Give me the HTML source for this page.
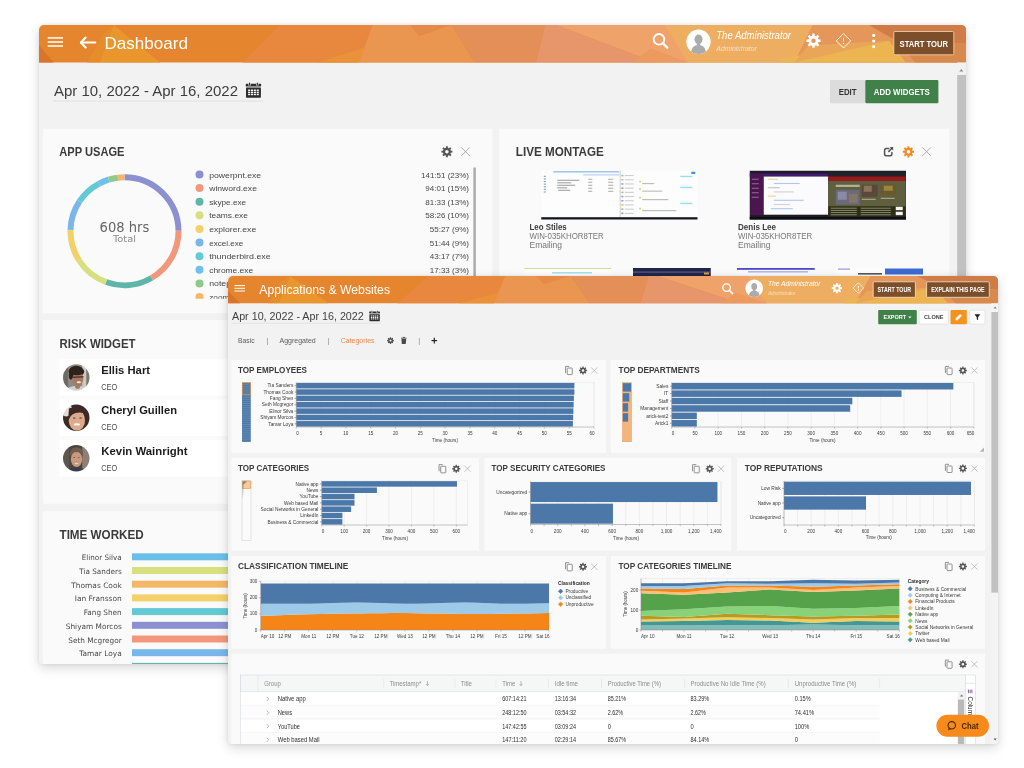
<!DOCTYPE html>
<html lang="en"><head><meta charset="utf-8"><title>Dashboard</title>
<style>
html,body{margin:0;padding:0;background:#fff;}
body{width:1024px;height:768px;position:relative;overflow:hidden;font-family:"Liberation Sans", sans-serif;}
.win{position:absolute;overflow:hidden;background:#f2f2f2;}
.win svg{display:block;}
text{white-space:pre;}
</style></head><body>
<div class="win" style="left:39px;top:25px;width:927px;height:639px;border-radius:5px 5px 4px 4px;box-shadow:0 4px 12px rgba(0,0,0,.15), 0 0 4px rgba(0,0,0,.08)"><svg width="927" height="639" viewBox="39 25 927 639" font-family='"Liberation Sans", sans-serif'><defs><filter id="fblur" x="-20%" y="-20%" width="140%" height="140%"><feGaussianBlur stdDeviation="0.75"/></filter><filter id="tblur" x="-2%" y="-5%" width="104%" height="110%"><feGaussianBlur stdDeviation="0.35"/></filter></defs><rect x="39.00" y="25.00" width="927.00" height="639.00" fill="#f2f2f2"/><rect x="39.00" y="25.00" width="927.00" height="37.50" fill="#e5852d"/><polygon points="39.0,45.6 53.8,62.5 39.0,62.5" fill="#d9752a"/><polygon points="113.6,25.0 160.0,62.5 99.7,62.5" fill="#e9962c"/><polygon points="99.7,62.5 113.6,25.0 103.9,32.5 87.2,62.5" fill="#e78c2b"/><polygon points="280.0,25.0 372.7,25.0 358.8,62.5 242.9,62.5" fill="#e8883f"/><polygon points="372.7,25.0 451.5,25.0 474.7,62.5 358.8,62.5" fill="#eb9650"/><polygon points="358.8,62.5 365.3,47.5 317.1,62.5" fill="#ea9238"/><polygon points="451.5,25.0 545.1,25.0 535.9,62.5 474.7,62.5" fill="#e48f58"/><polygon points="451.5,25.0 409.8,25.0 419.1,36.2" fill="#e68a4a"/><polygon points="545.1,25.0 556.3,25.0 655.5,62.5 535.9,62.5" fill="#e6966a"/><polygon points="556.3,25.0 669.4,25.0 687.9,62.5 655.5,62.5" fill="#efa36b"/><polygon points="664.7,25.0 813.0,25.0 794.5,62.5 687.9,62.5" fill="#eeae62"/><polygon points="650.8,48.2 687.9,62.5 632.3,62.5" fill="#ec9a60"/><polygon points="813.0,25.0 966.0,25.0 966.0,62.5 794.5,62.5" fill="#e5975a"/><polygon points="868.7,25.0 966.0,25.0 966.0,43.8 896.5,40.8" fill="#d07c47"/><polygon points="896.5,40.8 966.0,43.8 966.0,62.5 915.0,62.5" fill="#d88a4c"/><polygon points="780.6,58.8 889.1,40.8 905.7,62.5 780.6,62.5" fill="#ecb552"/><polygon points="794.5,62.5 889.1,40.8 808.4,45.6" fill="#eaa658"/><filter id="softb" filterUnits="userSpaceOnUse" x="34.0" y="20.0" width="937.0" height="649.0"><feGaussianBlur stdDeviation="0.4"/></filter><g filter="url(#softb)"><line x1="47.70" y1="37.90" x2="63.00" y2="37.90" stroke="#fbe6d3" stroke-width="1.9" /><line x1="47.70" y1="42.00" x2="63.00" y2="42.00" stroke="#fbe6d3" stroke-width="1.9" /><line x1="47.70" y1="46.00" x2="63.00" y2="46.00" stroke="#fbe6d3" stroke-width="1.9" /><line x1="81.20" y1="42.50" x2="95.30" y2="42.50" stroke="#fff" stroke-width="2.1" stroke-linecap="round"/><path d="M85.60 37.50 L80.90 42.50 L85.60 47.50" fill="none" stroke="#fff" stroke-width="2.1" stroke-linejoin="round" stroke-linecap="round"/><text x="104.50" y="48.80" font-size="17.0" fill="#fff" textLength="83.50" lengthAdjust="spacingAndGlyphs">Dashboard</text><circle cx="659.00" cy="39.30" r="5.30" fill="none" stroke="#fff" stroke-width="1.9"/><line x1="662.82" y1="43.12" x2="667.32" y2="47.62" stroke="#fff" stroke-width="2.1849999999999996" stroke-linecap="round"/><clipPath id="av1"><circle cx="698.50" cy="41.80" r="12.20"/></clipPath><circle cx="698.50" cy="41.80" r="12.20" fill="#fff"/><g clip-path="url(#av1)" fill="#ababab"><ellipse cx="698.50" cy="39.36" rx="4.03" ry="4.88"/><path d="M690.94 54.61 Q690.94 46.44 696.30 45.22 L700.70 45.22 Q706.06 46.44 706.06 54.61Z"/><rect x="696.79" y="41.80" width="3.42" height="4.88"/></g><text x="716.30" y="39.40" font-size="10.4" fill="#fff" textLength="74.70" lengthAdjust="spacingAndGlyphs" font-style="italic">The Administrator</text><text x="716.30" y="51.20" font-size="6.3" fill="#fff" textLength="40.50" lengthAdjust="spacingAndGlyphs" font-style="italic" opacity="0.6">Administrator</text><path d="M812.25 35.67 L812.32 33.60 L814.68 33.60 L814.75 35.67 L816.17 36.26 L817.69 34.84 L819.36 36.51 L817.94 38.03 L818.53 39.45 L820.60 39.52 L820.60 41.88 L818.53 41.95 L817.94 43.37 L819.36 44.89 L817.69 46.56 L816.17 45.14 L814.75 45.73 L814.68 47.80 L812.32 47.80 L812.25 45.73 L810.83 45.14 L809.31 46.56 L807.64 44.89 L809.06 43.37 L808.47 41.95 L806.40 41.88 L806.40 39.52 L808.47 39.45 L809.06 38.03 L807.64 36.51 L809.31 34.84 L810.83 36.26Z M811.20 40.70 a2.30 2.30 0 1 0 4.61 0 a2.30 2.30 0 1 0 -4.61 0Z" fill="#fff" fill-rule="evenodd"/><path d="M843.50 33.60 L850.70 40.80 L843.50 48.00 L836.30 40.80Z" fill="none" stroke="#fff" stroke-width="0.9" stroke-linejoin="round"/><rect x="843.05" y="37.78" width="0.90" height="3.60" fill="#fff"/><circle cx="843.50" cy="43.39" r="0.6" fill="#fff"/><circle cx="873.70" cy="35.40" r="1.6" fill="#fff"/><circle cx="873.70" cy="41.00" r="1.6" fill="#fff"/><circle cx="873.70" cy="46.60" r="1.6" fill="#fff"/><rect x="893.80" y="31.50" width="60.00" height="23.30" fill="#7b4f2b" rx="1.2" stroke="#f3d9bf" stroke-width="0.8"/><text x="923.80" y="46.50" font-size="9.3" fill="#fff" textLength="48.50" lengthAdjust="spacingAndGlyphs" font-weight="bold" text-anchor="middle">START TOUR</text><rect x="957.20" y="62.50" width="8.80" height="601.50" fill="#f1f1f1"/><rect x="957.20" y="75.00" width="8.80" height="589.00" fill="#c1c1c1"/><polygon points="959.3,71.6 961.3,69.0 963.3,71.6" fill="#8a8a8a"/><text x="54.00" y="96.10" font-size="15.2" fill="#3e3e3e" textLength="184.00" lengthAdjust="spacingAndGlyphs">Apr 10, 2022 - Apr 16, 2022</text><line x1="53.00" y1="101.00" x2="263.00" y2="101.00" stroke="#dedede" stroke-width="1.0" /><rect x="245.70" y="83.80" width="15.50" height="2.70" fill="#2e2e2e" rx="0.9"/><rect x="248.42" y="83.20" width="2.30" height="2.40" fill="#f2f2f2"/><rect x="249.02" y="82.60" width="1.10" height="2.80" fill="#2e2e2e" rx="0.5"/><rect x="256.18" y="83.20" width="2.30" height="2.40" fill="#f2f2f2"/><rect x="256.77" y="82.60" width="1.10" height="2.80" fill="#2e2e2e" rx="0.5"/><rect x="246.00" y="86.50" width="14.90" height="1.30" fill="#9a9a9a"/><rect x="246.00" y="87.80" width="14.90" height="9.90" fill="#2e2e2e" rx="0.6"/><rect x="248.10" y="89.54" width="2.07" height="1.43" fill="#fff"/><rect x="250.98" y="89.54" width="2.07" height="1.43" fill="#fff"/><rect x="253.85" y="89.54" width="2.07" height="1.43" fill="#fff"/><rect x="256.73" y="89.54" width="2.07" height="1.43" fill="#fff"/><rect x="248.10" y="91.64" width="2.07" height="1.43" fill="#fff"/><rect x="250.98" y="91.64" width="2.07" height="1.43" fill="#fff"/><rect x="253.85" y="91.64" width="2.07" height="1.43" fill="#fff"/><rect x="256.73" y="91.64" width="2.07" height="1.43" fill="#fff"/><rect x="248.10" y="93.74" width="2.07" height="1.43" fill="#fff"/><rect x="250.98" y="93.74" width="2.07" height="1.43" fill="#fff"/><rect x="253.85" y="93.74" width="2.07" height="1.43" fill="#fff"/><rect x="256.73" y="93.74" width="2.07" height="1.43" fill="#fff"/><rect x="830.00" y="80.00" width="35.30" height="23.20" fill="#dcdcdc" rx="1"/><text x="847.65" y="94.62" font-size="8.4" fill="#333" textLength="17.80" lengthAdjust="spacingAndGlyphs" font-weight="bold" text-anchor="middle">EDIT</text><rect x="865.30" y="80.00" width="73.10" height="23.20" fill="#3f8048" rx="1"/><text x="901.85" y="94.70" font-size="8.6" fill="#fff" textLength="56.00" lengthAdjust="spacingAndGlyphs" font-weight="bold" text-anchor="middle">ADD WIDGETS</text><rect x="43.00" y="128.75" width="449.25" height="184.50" fill="#fafafa"/><rect x="499.25" y="128.75" width="450.00" height="184.50" fill="#fafafa"/><rect x="43.00" y="320.00" width="449.25" height="183.75" fill="#fafafa"/><rect x="499.25" y="320.00" width="450.00" height="183.75" fill="#fafafa"/><rect x="43.00" y="511.25" width="906.25" height="160.00" fill="#fafafa"/><text x="59.25" y="156.25" font-size="12.6" fill="#3a3a3a" textLength="65.25" lengthAdjust="spacingAndGlyphs" font-weight="bold">APP USAGE</text><path d="M445.93 147.79 L445.98 146.18 L447.82 146.18 L447.87 147.79 L448.98 148.25 L450.16 147.14 L451.46 148.44 L450.35 149.62 L450.81 150.73 L452.42 150.78 L452.42 152.62 L450.81 152.67 L450.35 153.78 L451.46 154.96 L450.16 156.26 L448.98 155.15 L447.87 155.61 L447.82 157.22 L445.98 157.22 L445.93 155.61 L444.82 155.15 L443.64 156.26 L442.34 154.96 L443.45 153.78 L442.99 152.67 L441.38 152.62 L441.38 150.78 L442.99 150.73 L443.45 149.62 L442.34 148.44 L443.64 147.14 L444.82 148.25Z M445.11 151.70 a1.79 1.79 0 1 0 3.58 0 a1.79 1.79 0 1 0 -3.58 0Z" fill="#555" fill-rule="evenodd"/><line x1="461.20" y1="147.40" x2="469.80" y2="156.00" stroke="#9a98a0" stroke-width="0.8" /><line x1="461.20" y1="156.00" x2="469.80" y2="147.40" stroke="#9a98a0" stroke-width="0.8" /><path d="M124.50 177.25 A54.0 54.0 0 0 1 178.50 230.78" fill="none" stroke="#8b90d0" stroke-width="6"/><path d="M178.50 230.78 A54.0 54.0 0 0 1 151.50 278.02" fill="none" stroke="#f3977b" stroke-width="6"/><path d="M151.50 278.02 A54.0 54.0 0 0 1 106.03 281.99" fill="none" stroke="#5db6a9" stroke-width="6"/><path d="M106.03 281.99 A54.0 54.0 0 0 1 78.96 260.26" fill="none" stroke="#d6e07f" stroke-width="6"/><path d="M78.96 260.26 A54.0 54.0 0 0 1 70.52 229.84" fill="none" stroke="#f2d06b" stroke-width="6"/><path d="M70.52 229.84 A54.0 54.0 0 0 1 79.47 201.45" fill="none" stroke="#79b7ea" stroke-width="6"/><path d="M79.47 201.45 A54.0 54.0 0 0 1 99.15 183.57" fill="none" stroke="#64c9d5" stroke-width="6"/><path d="M99.15 183.57 A54.0 54.0 0 0 1 108.71 179.61" fill="none" stroke="#6cc0ea" stroke-width="6"/><path d="M108.71 179.61 A54.0 54.0 0 0 1 117.92 177.65" fill="none" stroke="#8fca8d" stroke-width="6"/><path d="M117.92 177.65 A54.0 54.0 0 0 1 124.50 177.25" fill="none" stroke="#f4b768" stroke-width="6"/><text x="124.40" y="231.70" font-size="13.2" fill="#666" textLength="49.70" lengthAdjust="spacingAndGlyphs" text-anchor="middle" font-family="DejaVu Sans, Liberation Sans, sans-serif">608 hrs</text><text x="124.50" y="241.90" font-size="9.4" fill="#8a8a8a" textLength="23.00" lengthAdjust="spacingAndGlyphs" text-anchor="middle" font-family="DejaVu Sans, Liberation Sans, sans-serif">Total</text><clipPath id="lgclip"><rect x="190" y="165" width="290" height="133.7"/></clipPath><g clip-path="url(#lgclip)"><circle cx="199.5" cy="174.50" r="4" fill="#8b90d0"/><text x="209.20" y="177.50" font-size="8.0" fill="#474747" textLength="52.00" lengthAdjust="spacingAndGlyphs">powerpnt.exe</text><text x="469.00" y="177.50" font-size="8.0" fill="#474747" textLength="48.00" lengthAdjust="spacingAndGlyphs" text-anchor="end">141:51 (23%)</text><circle cx="199.5" cy="188.12" r="4" fill="#f3977b"/><text x="209.20" y="191.12" font-size="8.0" fill="#474747" textLength="47.75" lengthAdjust="spacingAndGlyphs">winword.exe</text><text x="469.00" y="191.12" font-size="8.0" fill="#474747" textLength="43.75" lengthAdjust="spacingAndGlyphs" text-anchor="end">94:01 (15%)</text><circle cx="199.5" cy="201.74" r="4" fill="#5db6a9"/><text x="209.20" y="204.74" font-size="8.0" fill="#474747" textLength="37.00" lengthAdjust="spacingAndGlyphs">skype.exe</text><text x="469.00" y="204.74" font-size="8.0" fill="#474747" textLength="43.75" lengthAdjust="spacingAndGlyphs" text-anchor="end">81:33 (13%)</text><circle cx="199.5" cy="215.36" r="4" fill="#d6e07f"/><text x="209.20" y="218.36" font-size="8.0" fill="#474747" textLength="38.75" lengthAdjust="spacingAndGlyphs">teams.exe</text><text x="469.00" y="218.36" font-size="8.0" fill="#474747" textLength="43.75" lengthAdjust="spacingAndGlyphs" text-anchor="end">58:26 (10%)</text><circle cx="199.5" cy="228.98" r="4" fill="#f2d06b"/><text x="209.20" y="231.98" font-size="8.0" fill="#474747" textLength="47.00" lengthAdjust="spacingAndGlyphs">explorer.exe</text><text x="469.00" y="231.98" font-size="8.0" fill="#474747" textLength="39.25" lengthAdjust="spacingAndGlyphs" text-anchor="end">55:27 (9%)</text><circle cx="199.5" cy="242.60" r="4" fill="#79b7ea"/><text x="209.20" y="245.60" font-size="8.0" fill="#474747" textLength="34.00" lengthAdjust="spacingAndGlyphs">excel.exe</text><text x="469.00" y="245.60" font-size="8.0" fill="#474747" textLength="39.25" lengthAdjust="spacingAndGlyphs" text-anchor="end">51:44 (9%)</text><circle cx="199.5" cy="256.22" r="4" fill="#64c9d5"/><text x="209.20" y="259.22" font-size="8.0" fill="#474747" textLength="61.50" lengthAdjust="spacingAndGlyphs">thunderbird.exe</text><text x="469.00" y="259.22" font-size="8.0" fill="#474747" textLength="39.25" lengthAdjust="spacingAndGlyphs" text-anchor="end">43:17 (7%)</text><circle cx="199.5" cy="269.84" r="4" fill="#6cc0ea"/><text x="209.20" y="272.84" font-size="8.0" fill="#474747" textLength="44.00" lengthAdjust="spacingAndGlyphs">chrome.exe</text><text x="469.00" y="272.84" font-size="8.0" fill="#474747" textLength="39.25" lengthAdjust="spacingAndGlyphs" text-anchor="end">17:33 (3%)</text><circle cx="199.5" cy="283.46" r="4" fill="#8fca8d"/><text x="209.20" y="286.46" font-size="8.0" fill="#474747" textLength="48.00" lengthAdjust="spacingAndGlyphs">notepad.exe</text><circle cx="199.5" cy="297.08" r="4" fill="#f4b768"/><text x="209.20" y="300.08" font-size="8.0" fill="#474747" textLength="36.00" lengthAdjust="spacingAndGlyphs">zoom.exe</text></g><rect x="473.40" y="167.50" width="2.40" height="131.00" fill="#a9a9a9"/><text x="515.75" y="156.25" font-size="12.6" fill="#3a3a3a" textLength="88.00" lengthAdjust="spacingAndGlyphs" font-weight="bold">LIVE MONTAGE</text><path d="M888.80 148.42 L886.34 148.42 Q884.58 148.42 884.58 150.18 L884.58 153.96 Q884.58 155.72 886.34 155.72 L890.12 155.72 Q891.88 155.72 891.88 153.96 L891.88 152.38" fill="none" stroke="#555" stroke-width="1.5" stroke-linecap="round"/><line x1="888.36" y1="151.94" x2="892.32" y2="147.98" stroke="#555" stroke-width="1.6" /><path d="M889.68 147.10 L893.20 147.10 L893.20 150.62Z" fill="#555"/><path d="M907.41 147.82 L907.46 146.18 L909.34 146.18 L909.39 147.82 L910.52 148.28 L911.71 147.16 L913.04 148.49 L911.92 149.68 L912.38 150.81 L914.02 150.86 L914.02 152.74 L912.38 152.79 L911.92 153.92 L913.04 155.11 L911.71 156.44 L910.52 155.32 L909.39 155.78 L909.34 157.42 L907.46 157.42 L907.41 155.78 L906.28 155.32 L905.09 156.44 L903.76 155.11 L904.88 153.92 L904.42 152.79 L902.78 152.74 L902.78 150.86 L904.42 150.81 L904.88 149.68 L903.76 148.49 L905.09 147.16 L906.28 148.28Z M906.58 151.80 a1.82 1.82 0 1 0 3.65 0 a1.82 1.82 0 1 0 -3.65 0Z" fill="#f58a1f" fill-rule="evenodd"/><line x1="922.30" y1="147.40" x2="930.90" y2="156.00" stroke="#9a98a0" stroke-width="0.8" /><line x1="922.30" y1="156.00" x2="930.90" y2="147.40" stroke="#9a98a0" stroke-width="0.8" /><g filter="url(#tblur)"><rect x="541.25" y="170.75" width="156.25" height="48.75" fill="#fdfdfd"/><rect x="553.25" y="171.05" width="66.00" height="1.50" fill="#9cc4ea"/><rect x="583.25" y="173.95" width="36.00" height="1.60" fill="#c9d8ee"/><rect x="619.75" y="170.75" width="0.80" height="46.75" fill="#c8c8c8"/><rect x="691.25" y="171.75" width="4.00" height="2.20" fill="#3f8fe0"/><rect x="543.75" y="175.75" width="2.20" height="1.20" fill="#5a7fb8" opacity="0.7"/><rect x="543.75" y="178.35" width="2.20" height="1.20" fill="#5a7fb8" opacity="0.7"/><rect x="543.75" y="180.95" width="2.20" height="1.20" fill="#5a7fb8" opacity="0.7"/><rect x="543.75" y="183.55" width="2.20" height="1.20" fill="#5a7fb8" opacity="0.7"/><rect x="543.75" y="186.15" width="2.20" height="1.20" fill="#5a7fb8" opacity="0.7"/><rect x="543.75" y="188.75" width="2.20" height="1.20" fill="#5a7fb8" opacity="0.7"/><rect x="543.75" y="191.35" width="2.20" height="1.20" fill="#5a7fb8" opacity="0.7"/><rect x="557.25" y="179.75" width="22.00" height="1.10" fill="#555" opacity="0.55"/><rect x="557.25" y="182.25" width="14.00" height="1.10" fill="#555" opacity="0.55"/><rect x="557.25" y="184.75" width="18.00" height="1.10" fill="#555" opacity="0.55"/><rect x="557.25" y="187.25" width="10.00" height="1.10" fill="#555" opacity="0.55"/><rect x="558.25" y="189.75" width="12.00" height="1.10" fill="#555" opacity="0.55"/><rect x="588.25" y="178.75" width="4.00" height="1.10" fill="#666" opacity="0.5"/><rect x="608.25" y="178.75" width="5.00" height="1.10" fill="#666" opacity="0.5"/><rect x="588.25" y="181.75" width="4.00" height="1.10" fill="#666" opacity="0.5"/><rect x="608.25" y="181.75" width="5.00" height="1.10" fill="#666" opacity="0.5"/><rect x="588.25" y="184.75" width="4.00" height="1.10" fill="#666" opacity="0.5"/><rect x="608.25" y="184.75" width="5.00" height="1.10" fill="#666" opacity="0.5"/><rect x="588.25" y="187.75" width="4.00" height="1.10" fill="#666" opacity="0.5"/><rect x="608.25" y="187.75" width="5.00" height="1.10" fill="#666" opacity="0.5"/><rect x="588.25" y="190.75" width="4.00" height="1.10" fill="#666" opacity="0.5"/><rect x="608.25" y="190.75" width="5.00" height="1.10" fill="#666" opacity="0.5"/><rect x="621.25" y="174.75" width="2.20" height="1.60" fill="#6cc070" opacity="0.8"/><rect x="624.75" y="175.05" width="9.00" height="1.00" fill="#999" opacity="0.5"/><rect x="621.25" y="178.95" width="2.20" height="1.60" fill="#e9a23b" opacity="0.8"/><rect x="624.75" y="179.25" width="9.00" height="1.00" fill="#999" opacity="0.5"/><rect x="621.25" y="183.15" width="2.20" height="1.60" fill="#5aa0e0" opacity="0.8"/><rect x="624.75" y="183.45" width="9.00" height="1.00" fill="#999" opacity="0.5"/><rect x="621.25" y="187.35" width="2.20" height="1.60" fill="#d66" opacity="0.8"/><rect x="624.75" y="187.65" width="9.00" height="1.00" fill="#999" opacity="0.5"/><rect x="621.25" y="191.55" width="2.20" height="1.60" fill="#6cc070" opacity="0.8"/><rect x="624.75" y="191.85" width="9.00" height="1.00" fill="#999" opacity="0.5"/><rect x="621.25" y="195.75" width="2.20" height="1.60" fill="#b070d0" opacity="0.8"/><rect x="624.75" y="196.05" width="9.00" height="1.00" fill="#999" opacity="0.5"/><rect x="621.25" y="199.95" width="2.20" height="1.60" fill="#5aa0e0" opacity="0.8"/><rect x="624.75" y="200.25" width="9.00" height="1.00" fill="#999" opacity="0.5"/><rect x="621.25" y="204.15" width="2.20" height="1.60" fill="#e9a23b" opacity="0.8"/><rect x="624.75" y="204.45" width="9.00" height="1.00" fill="#999" opacity="0.5"/><rect x="621.25" y="208.35" width="2.20" height="1.60" fill="#6cc070" opacity="0.8"/><rect x="624.75" y="208.65" width="9.00" height="1.00" fill="#999" opacity="0.5"/><rect x="621.25" y="212.55" width="2.20" height="1.60" fill="#888" opacity="0.8"/><rect x="624.75" y="212.85" width="9.00" height="1.00" fill="#999" opacity="0.5"/><rect x="639.25" y="180.75" width="1.60" height="1.60" fill="#c8d84a"/><rect x="642.25" y="183.15" width="12.00" height="1.00" fill="#777" opacity="0.55"/><rect x="639.25" y="188.25" width="1.60" height="1.60" fill="#c8d84a"/><rect x="642.25" y="190.65" width="20.00" height="1.00" fill="#777" opacity="0.55"/><rect x="639.25" y="196.75" width="1.60" height="1.60" fill="#c8d84a"/><rect x="642.25" y="199.15" width="26.00" height="1.00" fill="#777" opacity="0.55"/><rect x="639.25" y="207.75" width="1.60" height="1.60" fill="#c8d84a"/><rect x="642.25" y="210.15" width="34.00" height="1.00" fill="#777" opacity="0.55"/><rect x="680.25" y="175.75" width="12.00" height="1.40" fill="#7fd6e0" opacity="0.8"/><rect x="680.25" y="186.75" width="12.00" height="1.40" fill="#7fd6e0" opacity="0.8"/><rect x="680.25" y="202.75" width="12.00" height="1.40" fill="#7fd6e0" opacity="0.8"/><rect x="541.25" y="217.20" width="156.25" height="2.30" fill="#15171c"/></g><text x="529.50" y="230.00" font-size="8.6" fill="#3c3c3c" textLength="37.25" lengthAdjust="spacingAndGlyphs" font-weight="bold">Leo Stiles</text><text x="529.50" y="239.20" font-size="8.6" fill="#777" textLength="74.25" lengthAdjust="spacingAndGlyphs">WIN-035KHOR8TER</text><text x="529.50" y="247.60" font-size="8.6" fill="#777" textLength="32.50" lengthAdjust="spacingAndGlyphs">Emailing</text><g filter="url(#tblur)"><rect x="749.75" y="170.75" width="156.25" height="48.75" fill="#1c1c20"/><rect x="749.75" y="173.35" width="78.00" height="3.20" fill="#3c1a72"/><rect x="750.25" y="174.15" width="13.50" height="41.25" fill="#4b1450"/><rect x="763.75" y="176.55" width="64.50" height="38.15" fill="#fbfbfd"/><rect x="767.75" y="178.75" width="10.00" height="1.10" fill="#f0a030" opacity="0.5"/><rect x="773.75" y="182.95" width="26.00" height="1.10" fill="#5a9ae0" opacity="0.5"/><rect x="767.75" y="187.15" width="12.00" height="1.10" fill="#888" opacity="0.5"/><rect x="773.75" y="191.35" width="20.00" height="1.10" fill="#aaa" opacity="0.5"/><rect x="767.75" y="195.55" width="8.00" height="1.10" fill="#f0a030" opacity="0.5"/><rect x="773.75" y="199.75" width="30.00" height="1.10" fill="#5a9ae0" opacity="0.5"/><rect x="773.75" y="203.95" width="16.00" height="1.10" fill="#aaa" opacity="0.5"/><rect x="770.75" y="208.15" width="22.00" height="1.10" fill="#5a9ae0" opacity="0.5"/><rect x="751.75" y="178.75" width="7.00" height="1.00" fill="#c9a0d0" opacity="0.6"/><rect x="751.75" y="183.25" width="7.00" height="1.00" fill="#c9a0d0" opacity="0.6"/><rect x="751.75" y="187.75" width="7.00" height="1.00" fill="#c9a0d0" opacity="0.6"/><rect x="751.75" y="192.25" width="7.00" height="1.00" fill="#c9a0d0" opacity="0.6"/><rect x="751.75" y="196.75" width="7.00" height="1.00" fill="#c9a0d0" opacity="0.6"/><rect x="828.25" y="171.95" width="77.50" height="4.20" fill="#24242a"/><rect x="828.25" y="176.35" width="77.50" height="4.80" fill="#931a1c"/><rect x="828.25" y="180.95" width="77.50" height="34.75" fill="#5e5e40"/><rect x="835.75" y="184.75" width="24.00" height="2.20" fill="#d8d4b8" opacity="0.7"/><rect x="835.75" y="189.75" width="24.00" height="15.00" fill="#6a6a78"/><rect x="837.75" y="191.75" width="9.00" height="8.00" fill="#9a98b8" opacity="0.7"/><rect x="848.75" y="193.75" width="9.00" height="9.00" fill="#8a7868" opacity="0.8"/><rect x="861.75" y="184.75" width="16.00" height="12.00" fill="#5a4a3a"/><rect x="863.75" y="185.75" width="8.00" height="6.00" fill="#a08868" opacity="0.7"/><rect x="880.75" y="184.75" width="15.00" height="10.00" fill="#6a5a2a"/><rect x="883.75" y="185.75" width="9.00" height="5.00" fill="#b09848" opacity="0.7"/><rect x="861.75" y="198.75" width="14.00" height="1.20" fill="#d8d4b8" opacity="0.6"/><rect x="880.75" y="197.75" width="14.00" height="1.20" fill="#d8d4b8" opacity="0.6"/><rect x="828.25" y="206.25" width="77.50" height="10.50" fill="#2e2f14"/><rect x="830.75" y="207.75" width="26.00" height="0.90" fill="#d0d0c0" opacity="0.6"/><rect x="860.75" y="207.75" width="30.00" height="0.90" fill="#d0d0c0" opacity="0.6"/><rect x="830.75" y="209.95" width="26.00" height="0.90" fill="#d0d0c0" opacity="0.6"/><rect x="860.75" y="209.95" width="30.00" height="0.90" fill="#d0d0c0" opacity="0.6"/><rect x="830.75" y="212.15" width="26.00" height="0.90" fill="#d0d0c0" opacity="0.6"/><rect x="860.75" y="212.15" width="30.00" height="0.90" fill="#d0d0c0" opacity="0.6"/><rect x="830.75" y="214.35" width="26.00" height="0.90" fill="#d0d0c0" opacity="0.6"/><rect x="860.75" y="214.35" width="30.00" height="0.90" fill="#d0d0c0" opacity="0.6"/><rect x="895.75" y="206.75" width="7.00" height="3.40" fill="#f4f4f4"/><rect x="895.75" y="211.75" width="7.00" height="3.40" fill="#f4f4f4"/><rect x="749.75" y="216.90" width="156.25" height="2.60" fill="#0c0d12"/></g><text x="738.00" y="230.00" font-size="8.6" fill="#3c3c3c" textLength="38.00" lengthAdjust="spacingAndGlyphs" font-weight="bold">Denis Lee</text><text x="738.00" y="239.20" font-size="8.6" fill="#777" textLength="74.25" lengthAdjust="spacingAndGlyphs">WIN-035KHOR8TER</text><text x="738.00" y="247.60" font-size="8.6" fill="#777" textLength="32.50" lengthAdjust="spacingAndGlyphs">Emailing</text><rect x="524.25" y="268.00" width="87.00" height="40.00" fill="#fdfdfd"/><rect x="524.25" y="268.00" width="87.00" height="1.00" fill="#d8d890"/><rect x="552.00" y="272.00" width="40.00" height="1.50" fill="#a8e0ec"/><rect x="633.00" y="268.00" width="77.75" height="40.00" fill="#22264a"/><rect x="633.00" y="271.50" width="77.75" height="1.20" fill="#5a5f8a"/><rect x="704.00" y="272.50" width="5.00" height="2.00" fill="#e0a030"/><rect x="737.00" y="268.00" width="77.75" height="40.00" fill="#fbfbff"/><rect x="737.00" y="268.00" width="77.75" height="1.80" fill="#4a4ad0"/><rect x="748.00" y="271.00" width="60.00" height="1.60" fill="#b8b8e8"/><rect x="836.50" y="268.00" width="87.00" height="40.00" fill="#fdfdfd"/><rect x="885.00" y="268.50" width="38.00" height="6.00" fill="#3a6ad0"/><rect x="838.00" y="268.50" width="12.00" height="1.20" fill="#a090e0"/><rect x="858.00" y="273.00" width="24.00" height="1.60" fill="#555"/><text x="59.50" y="348.00" font-size="13" fill="#3a3a3a" textLength="76.00" lengthAdjust="spacingAndGlyphs" font-weight="bold">RISK WIDGET</text><rect x="59.50" y="359.25" width="420.00" height="36.50" fill="#fff"/><clipPath id="fc0"><circle cx="76.25" cy="377.50" r="13.25"/></clipPath><g clip-path="url(#fc0)"><g filter="url(#fblur)"><rect x="61.00" y="362.25" width="30.50" height="30.50" fill="#8f8984"/><rect x="82.21" y="363.25" width="4.24" height="28.50" fill="#cfc9c2"/><rect x="86.45" y="363.25" width="5.30" height="28.50" fill="#7d7772"/><rect x="62.00" y="363.25" width="5.96" height="28.50" fill="#6f6a66"/><ellipse cx="76.25" cy="371.54" rx="7.68" ry="5.83" fill="#2e211b"/><ellipse cx="70.95" cy="375.51" rx="2.12" ry="3.97" fill="#2e211b"/><ellipse cx="77.84" cy="378.82" rx="5.56" ry="6.62" fill="#a8785e"/><ellipse cx="76.91" cy="371.54" rx="7.29" ry="3.71" fill="#2e211b"/><line x1="72.28" y1="377.24" x2="83.54" y2="376.84" stroke="#241c18" stroke-width="1.0" /><ellipse cx="78.90" cy="382.27" rx="2.25" ry="0.93" fill="#f1e9e4"/><ellipse cx="76.91" cy="391.01" rx="10.60" ry="5.30" fill="#cdd3d0"/><ellipse cx="77.58" cy="386.77" rx="2.65" ry="2.12" fill="#a8785e"/></g></g><text x="101.25" y="373.85" font-size="11.8" fill="#1c1c1c" textLength="48.75" lengthAdjust="spacingAndGlyphs" font-weight="bold">Ellis Hart</text><text x="101.25" y="390.05" font-size="8.8" fill="#4a4a4a" textLength="16.00" lengthAdjust="spacingAndGlyphs">CEO</text><rect x="59.50" y="399.50" width="420.00" height="36.50" fill="#fff"/><clipPath id="fc1"><circle cx="76.25" cy="417.75" r="13.25"/></clipPath><g clip-path="url(#fc1)"><g filter="url(#fblur)"><rect x="61.00" y="402.50" width="30.50" height="30.50" fill="#3b2b27"/><ellipse cx="76.25" cy="417.09" rx="11.93" ry="13.25" fill="#3b2b27"/><ellipse cx="66.31" cy="409.80" rx="5.96" ry="6.62" fill="#e4ddd6"/><ellipse cx="76.91" cy="420.40" rx="8.21" ry="10.34" fill="#dcaa8c"/><path d="M68.03 421.06 Q71.61 410.46 84.47 413.11 Q78.90 404.50 68.96 408.48Z" fill="#3b2b27"/><ellipse cx="87.11" cy="421.73" rx="2.25" ry="7.95" fill="#3b2b27"/><ellipse cx="76.91" cy="424.38" rx="3.18" ry="1.19" fill="#fbf6f2"/><ellipse cx="74.26" cy="418.01" rx="1.33" ry="0.53" fill="#3a2a22"/><ellipse cx="80.49" cy="418.01" rx="1.33" ry="0.53" fill="#3a2a22"/></g></g><text x="101.25" y="414.10" font-size="11.8" fill="#1c1c1c" textLength="75.75" lengthAdjust="spacingAndGlyphs" font-weight="bold">Cheryl Guillen</text><text x="101.25" y="430.30" font-size="8.8" fill="#4a4a4a" textLength="16.00" lengthAdjust="spacingAndGlyphs">CEO</text><rect x="59.50" y="440.00" width="420.00" height="36.50" fill="#fff"/><clipPath id="fc2"><circle cx="76.25" cy="458.25" r="13.25"/></clipPath><g clip-path="url(#fc2)"><g filter="url(#fblur)"><rect x="61.00" y="443.00" width="30.50" height="30.50" fill="#4a4440"/><rect x="82.21" y="444.00" width="9.27" height="28.50" fill="#8b7f76"/><rect x="62.00" y="444.00" width="7.29" height="28.50" fill="#5d5650"/><ellipse cx="76.52" cy="453.21" rx="6.62" ry="5.96" fill="#6f5c4b"/><ellipse cx="76.52" cy="459.31" rx="5.70" ry="7.68" fill="#c9997f"/><ellipse cx="76.52" cy="450.04" rx="5.30" ry="2.12" fill="#6f5c4b"/><ellipse cx="76.52" cy="463.55" rx="2.12" ry="0.66" fill="#e9ddd6"/><ellipse cx="74.13" cy="457.59" rx="1.06" ry="0.46" fill="#4a3a32"/><ellipse cx="78.90" cy="457.59" rx="1.06" ry="0.46" fill="#4a3a32"/><ellipse cx="76.25" cy="473.09" rx="12.59" ry="5.56" fill="#3a3e48"/></g></g><text x="101.25" y="454.60" font-size="11.8" fill="#1c1c1c" textLength="86.25" lengthAdjust="spacingAndGlyphs" font-weight="bold">Kevin Wainright</text><text x="101.25" y="470.80" font-size="8.8" fill="#4a4a4a" textLength="16.00" lengthAdjust="spacingAndGlyphs">CEO</text><text x="59.50" y="539.25" font-size="13" fill="#3a3a3a" textLength="84.25" lengthAdjust="spacingAndGlyphs" font-weight="bold">TIME WORKED</text><rect x="132.00" y="553.30" width="760.00" height="7.00" fill="#6bbfe9"/><text x="121.75" y="560.30" font-size="7.4" fill="#484848" textLength="40.00" lengthAdjust="spacingAndGlyphs" text-anchor="end" font-family="DejaVu Sans, Liberation Sans, sans-serif">Elinor Silva</text><rect x="132.00" y="567.00" width="760.00" height="7.00" fill="#d6e07f"/><text x="121.75" y="574.00" font-size="7.4" fill="#484848" textLength="42.50" lengthAdjust="spacingAndGlyphs" text-anchor="end" font-family="DejaVu Sans, Liberation Sans, sans-serif">Tia Sanders</text><rect x="132.00" y="580.70" width="760.00" height="7.00" fill="#f4b768"/><text x="121.75" y="587.70" font-size="7.4" fill="#484848" textLength="50.50" lengthAdjust="spacingAndGlyphs" text-anchor="end" font-family="DejaVu Sans, Liberation Sans, sans-serif">Thomas Cook</text><rect x="132.00" y="594.40" width="760.00" height="7.00" fill="#f2d06b"/><text x="121.75" y="601.40" font-size="7.4" fill="#484848" textLength="47.00" lengthAdjust="spacingAndGlyphs" text-anchor="end" font-family="DejaVu Sans, Liberation Sans, sans-serif">Ian Fransson</text><rect x="132.00" y="608.10" width="760.00" height="7.00" fill="#64c9d5"/><text x="121.75" y="615.10" font-size="7.4" fill="#484848" textLength="38.00" lengthAdjust="spacingAndGlyphs" text-anchor="end" font-family="DejaVu Sans, Liberation Sans, sans-serif">Fang Shen</text><rect x="132.00" y="621.80" width="760.00" height="7.00" fill="#8b90d0"/><text x="121.75" y="628.80" font-size="7.4" fill="#484848" textLength="56.00" lengthAdjust="spacingAndGlyphs" text-anchor="end" font-family="DejaVu Sans, Liberation Sans, sans-serif">Shiyam Morcos</text><rect x="132.00" y="635.50" width="760.00" height="7.00" fill="#f3977b"/><text x="121.75" y="642.50" font-size="7.4" fill="#484848" textLength="53.50" lengthAdjust="spacingAndGlyphs" text-anchor="end" font-family="DejaVu Sans, Liberation Sans, sans-serif">Seth Mcgregor</text><rect x="132.00" y="649.20" width="760.00" height="7.00" fill="#79b7ea"/><text x="121.75" y="656.20" font-size="7.4" fill="#484848" textLength="42.50" lengthAdjust="spacingAndGlyphs" text-anchor="end" font-family="DejaVu Sans, Liberation Sans, sans-serif">Tamar Loya</text><rect x="132.00" y="662.90" width="760.00" height="7.00" fill="#5db6a9"/></g></svg></div>
<div class="win" style="left:228px;top:276px;width:770px;height:468px;border-radius:5px 5px 4px 4px;box-shadow:0 4px 12px rgba(0,0,0,.15), 0 0 4px rgba(0,0,0,.09)"><svg width="770" height="468" viewBox="228 276 770 468" font-family='"Liberation Sans", sans-serif'><rect x="228.00" y="276.00" width="770.00" height="468.00" fill="#f2f2f2"/><rect x="228.00" y="276.00" width="770.00" height="27.25" fill="#e5852d"/><polygon points="228.0,291.0 240.3,303.2 228.0,303.2" fill="#d9752a"/><polygon points="290.0,276.0 328.5,303.2 278.4,303.2" fill="#e9962c"/><polygon points="278.4,303.2 290.0,276.0 281.9,281.4 268.0,303.2" fill="#e78c2b"/><polygon points="428.2,276.0 505.2,276.0 493.6,303.2 397.4,303.2" fill="#e8883f"/><polygon points="505.2,276.0 570.6,276.0 589.9,303.2 493.6,303.2" fill="#eb9650"/><polygon points="493.6,303.2 499.0,292.4 459.0,303.2" fill="#ea9238"/><polygon points="570.6,276.0 648.4,276.0 640.7,303.2 589.9,303.2" fill="#e48f58"/><polygon points="570.6,276.0 536.0,276.0 543.7,284.2" fill="#e68a4a"/><polygon points="648.4,276.0 657.7,276.0 740.1,303.2 640.7,303.2" fill="#e6966a"/><polygon points="657.7,276.0 751.6,276.0 767.0,303.2 740.1,303.2" fill="#efa36b"/><polygon points="747.8,276.0 870.9,276.0 855.5,303.2 767.0,303.2" fill="#eeae62"/><polygon points="736.2,292.9 767.0,303.2 720.8,303.2" fill="#ec9a60"/><polygon points="870.9,276.0 998.0,276.0 998.0,303.2 855.5,303.2" fill="#e5975a"/><polygon points="917.1,276.0 998.0,276.0 998.0,289.6 940.2,287.4" fill="#d07c47"/><polygon points="940.2,287.4 998.0,289.6 998.0,303.2 955.6,303.2" fill="#d88a4c"/><polygon points="844.0,300.5 934.1,287.4 948.0,303.2 844.0,303.2" fill="#ecb552"/><polygon points="855.5,303.2 934.1,287.4 867.1,291.0" fill="#eaa658"/><filter id="softf" filterUnits="userSpaceOnUse" x="223.0" y="271.0" width="780.0" height="478.0"><feGaussianBlur stdDeviation="0.4"/></filter><g filter="url(#softf)"><line x1="234.50" y1="285.60" x2="245.00" y2="285.60" stroke="#fff" stroke-width="1.0" /><line x1="234.50" y1="288.30" x2="245.00" y2="288.30" stroke="#fff" stroke-width="1.0" /><line x1="234.50" y1="291.00" x2="245.00" y2="291.00" stroke="#fff" stroke-width="1.0" /><text x="259.25" y="293.75" font-size="13" fill="#fff" textLength="130.75" lengthAdjust="spacingAndGlyphs">Applications &amp; Websites</text><circle cx="726.60" cy="287.60" r="3.80" fill="none" stroke="#fff" stroke-width="1.35"/><line x1="729.34" y1="290.34" x2="732.57" y2="293.57" stroke="#fff" stroke-width="1.5525" stroke-linecap="round"/><clipPath id="av2"><circle cx="754.20" cy="288.30" r="8.80"/></clipPath><circle cx="754.20" cy="288.30" r="8.80" fill="#fff"/><g clip-path="url(#av2)" fill="#ababab"><ellipse cx="754.20" cy="286.54" rx="2.90" ry="3.52"/><path d="M748.74 297.54 Q748.74 291.64 752.62 290.76 L755.78 290.76 Q759.66 291.64 759.66 297.54Z"/><rect x="752.97" y="288.30" width="2.46" height="3.52"/></g><text x="767.90" y="286.30" font-size="7.4" fill="#fff" textLength="52.70" lengthAdjust="spacingAndGlyphs" font-style="italic">The Administrator</text><text x="767.90" y="294.80" font-size="4.6" fill="#fff" textLength="27.60" lengthAdjust="spacingAndGlyphs" font-style="italic" opacity="0.6">Administrator</text><path d="M836.00 284.57 L836.05 283.07 L837.75 283.07 L837.80 284.57 L838.83 284.99 L839.92 283.97 L841.13 285.18 L840.11 286.27 L840.53 287.30 L842.03 287.35 L842.03 289.05 L840.53 289.10 L840.11 290.13 L841.13 291.22 L839.92 292.43 L838.83 291.41 L837.80 291.83 L837.75 293.33 L836.05 293.33 L836.00 291.83 L834.97 291.41 L833.88 292.43 L832.67 291.22 L833.69 290.13 L833.27 289.10 L831.77 289.05 L831.77 287.35 L833.27 287.30 L833.69 286.27 L832.67 285.18 L833.88 283.97 L834.97 284.99Z M835.24 288.20 a1.66 1.66 0 1 0 3.33 0 a1.66 1.66 0 1 0 -3.33 0Z" fill="#fff" fill-rule="evenodd"/><path d="M858.30 282.70 L863.60 288.00 L858.30 293.30 L853.00 288.00Z" fill="none" stroke="#fff" stroke-width="0.7" stroke-linejoin="round"/><rect x="857.85" y="285.77" width="0.90" height="2.65" fill="#fff"/><circle cx="858.30" cy="289.91" r="0.6" fill="#fff"/><rect x="873.20" y="281.80" width="42.20" height="15.50" fill="#7b4f2b" rx="1" stroke="#f6e3d0" stroke-width="0.8"/><text x="894.30" y="291.82" font-size="6.3" fill="#fff" textLength="33.50" lengthAdjust="spacingAndGlyphs" font-weight="bold" text-anchor="middle">START TOUR</text><rect x="926.60" y="281.80" width="62.70" height="15.50" fill="#7b4f2b" rx="1" stroke="#f6e3d0" stroke-width="0.8"/><text x="957.95" y="291.82" font-size="6.3" fill="#fff" textLength="53.50" lengthAdjust="spacingAndGlyphs" font-weight="bold" text-anchor="middle">EXPLAIN THIS PAGE</text><rect x="991.40" y="303.25" width="6.60" height="440.75" fill="#f4f4f4"/><rect x="991.40" y="312.00" width="6.60" height="280.60" fill="#c1c1c1"/><polygon points="993.6,308.6 995.1,306.6 996.6,308.6" fill="#7a7a7a"/><polygon points="993.6,738.6 995.1,740.6 996.6,738.6" fill="#555"/><text x="232.00" y="320.40" font-size="11.0" fill="#3e3e3e" textLength="131.75" lengthAdjust="spacingAndGlyphs">Apr 10, 2022 - Apr 16, 2022</text><line x1="231.50" y1="323.20" x2="381.00" y2="323.20" stroke="#dcdcdc" stroke-width="0.7" /><rect x="369.20" y="311.44" width="10.80" height="1.90" fill="#2e2e2e" rx="0.6317880794701988"/><rect x="371.09" y="311.02" width="1.61" height="1.68" fill="#f2f2f2"/><rect x="371.51" y="310.60" width="0.77" height="1.97" fill="#2e2e2e" rx="0.3509933774834437"/><rect x="376.49" y="311.02" width="1.61" height="1.68" fill="#f2f2f2"/><rect x="376.91" y="310.60" width="0.77" height="1.97" fill="#2e2e2e" rx="0.3509933774834437"/><rect x="369.41" y="313.34" width="10.38" height="0.91" fill="#9a9a9a"/><rect x="369.41" y="314.25" width="10.38" height="6.95" fill="#2e2e2e" rx="0.42119205298013246"/><rect x="370.88" y="315.47" width="1.44" height="1.00" fill="#fff"/><rect x="372.88" y="315.47" width="1.44" height="1.00" fill="#fff"/><rect x="374.88" y="315.47" width="1.44" height="1.00" fill="#fff"/><rect x="376.88" y="315.47" width="1.44" height="1.00" fill="#fff"/><rect x="370.88" y="316.94" width="1.44" height="1.00" fill="#fff"/><rect x="372.88" y="316.94" width="1.44" height="1.00" fill="#fff"/><rect x="374.88" y="316.94" width="1.44" height="1.00" fill="#fff"/><rect x="376.88" y="316.94" width="1.44" height="1.00" fill="#fff"/><rect x="370.88" y="318.42" width="1.44" height="1.00" fill="#fff"/><rect x="372.88" y="318.42" width="1.44" height="1.00" fill="#fff"/><rect x="374.88" y="318.42" width="1.44" height="1.00" fill="#fff"/><rect x="376.88" y="318.42" width="1.44" height="1.00" fill="#fff"/><rect x="878.20" y="310.00" width="38.60" height="14.30" fill="#3f8048" rx="1"/><text x="883.50" y="319.40" font-size="6.0" fill="#fff" textLength="22.50" lengthAdjust="spacingAndGlyphs" font-weight="bold">EXPORT</text><polygon points="908.2,316.4 911.6,316.4 909.9,318.3" fill="#fff"/><rect x="919.20" y="310.20" width="29.20" height="13.90" fill="#fff" rx="1" stroke="#d9d9d9" stroke-width="0.6"/><text x="933.80" y="319.31" font-size="6.0" fill="#444" textLength="19.50" lengthAdjust="spacingAndGlyphs" font-weight="bold" text-anchor="middle">CLONE</text><rect x="950.50" y="310.00" width="16.30" height="14.30" fill="#f7931e" rx="1"/><path d="M955.60 320.30 L955.60 318.28 L960.10 314.10 L961.80 315.81 L957.62 320.30Z" fill="#fff"/><rect x="969.80" y="310.20" width="15.20" height="13.90" fill="#fff" rx="1" stroke="#d9d9d9" stroke-width="0.6"/><path d="M974.40 314.30 L980.40 314.30 L978.06 317.15 L978.06 320.30 L976.74 319.25 L976.74 317.15Z" fill="#222"/><text x="238.00" y="343.00" font-size="6.6" fill="#5a5a5a" textLength="16.50" lengthAdjust="spacingAndGlyphs">Basic</text><text x="266.40" y="342.80" font-size="7.4" fill="#8a8a8a">|</text><text x="279.50" y="343.00" font-size="6.6" fill="#5a5a5a" textLength="36.25" lengthAdjust="spacingAndGlyphs">Aggregated</text><text x="327.70" y="342.80" font-size="7.4" fill="#8a8a8a">|</text><text x="340.75" y="343.00" font-size="6.6" fill="#f0884a" textLength="33.75" lengthAdjust="spacingAndGlyphs">Categories</text><path d="M389.91 338.22 L389.94 337.25 L391.06 337.25 L391.09 338.22 L391.76 338.50 L392.48 337.83 L393.27 338.62 L392.60 339.34 L392.88 340.01 L393.85 340.04 L393.85 341.16 L392.88 341.19 L392.60 341.86 L393.27 342.58 L392.48 343.37 L391.76 342.70 L391.09 342.98 L391.06 343.95 L389.94 343.95 L389.91 342.98 L389.24 342.70 L388.52 343.37 L387.73 342.58 L388.40 341.86 L388.12 341.19 L387.15 341.16 L387.15 340.04 L388.12 340.01 L388.40 339.34 L387.73 338.62 L388.52 337.83 L389.24 338.50Z M389.40 340.60 a1.10 1.10 0 1 0 2.20 0 a1.10 1.10 0 1 0 -2.20 0Z" fill="#444" fill-rule="evenodd"/><rect x="401.00" y="337.74" width="5.60" height="0.84" fill="#4a4a4a"/><rect x="402.75" y="336.90" width="2.10" height="0.98" fill="#4a4a4a"/><path d="M401.42 339.00 L406.18 339.00 L405.76 343.90 L401.84 343.90Z" fill="#4a4a4a"/><text x="418.30" y="342.80" font-size="7.4" fill="#8a8a8a">|</text><line x1="431.50" y1="340.60" x2="437.10" y2="340.60" stroke="#222" stroke-width="1.2" /><line x1="434.30" y1="337.80" x2="434.30" y2="343.40" stroke="#222" stroke-width="1.2" /><rect x="231.25" y="360.00" width="374.75" height="92.90" fill="#fafafa"/><text x="238.00" y="373.25" font-size="9.6" fill="#3a3a3a" textLength="69.00" lengthAdjust="spacingAndGlyphs" font-weight="bold">TOP EMPLOYEES</text><path d="M569.22 366.40 L565.56 366.40 L565.56 372.96" fill="none" stroke="#858585" stroke-width="0.9"/><rect x="567.20" y="368.04" width="5.08" height="6.56" fill="none" rx="0.6" stroke="#858585" stroke-width="0.9"/><path d="M582.30 367.67 L582.34 366.50 L583.66 366.50 L583.70 367.67 L584.50 368.00 L585.35 367.20 L586.30 368.15 L585.50 369.00 L585.83 369.80 L587.00 369.84 L587.00 371.16 L585.83 371.20 L585.50 372.00 L586.30 372.85 L585.35 373.80 L584.50 373.00 L583.70 373.33 L583.66 374.50 L582.34 374.50 L582.30 373.33 L581.50 373.00 L580.65 373.80 L579.70 372.85 L580.50 372.00 L580.17 371.20 L579.00 371.16 L579.00 369.84 L580.17 369.80 L580.50 369.00 L579.70 368.15 L580.65 367.20 L581.50 368.00Z M581.70 370.50 a1.30 1.30 0 1 0 2.60 0 a1.30 1.30 0 1 0 -2.60 0Z" fill="#555" fill-rule="evenodd"/><line x1="591.15" y1="367.40" x2="597.35" y2="373.60" stroke="#aaa8ae" stroke-width="0.7" /><line x1="591.15" y1="373.60" x2="597.35" y2="367.40" stroke="#aaa8ae" stroke-width="0.7" /><rect x="242.00" y="382.50" width="8.75" height="59.50" fill="#4c78a8"/><line x1="242.00" y1="384.60" x2="250.75" y2="384.60" stroke="#7f9fc4" stroke-width="0.45" /><line x1="242.00" y1="386.70" x2="250.75" y2="386.70" stroke="#7f9fc4" stroke-width="0.45" /><line x1="242.00" y1="388.80" x2="250.75" y2="388.80" stroke="#7f9fc4" stroke-width="0.45" /><line x1="242.00" y1="390.90" x2="250.75" y2="390.90" stroke="#7f9fc4" stroke-width="0.45" /><line x1="242.00" y1="393.00" x2="250.75" y2="393.00" stroke="#7f9fc4" stroke-width="0.45" /><line x1="242.00" y1="395.10" x2="250.75" y2="395.10" stroke="#7f9fc4" stroke-width="0.45" /><line x1="242.00" y1="397.20" x2="250.75" y2="397.20" stroke="#7f9fc4" stroke-width="0.45" /><line x1="242.00" y1="399.30" x2="250.75" y2="399.30" stroke="#7f9fc4" stroke-width="0.45" /><line x1="242.00" y1="401.40" x2="250.75" y2="401.40" stroke="#7f9fc4" stroke-width="0.45" /><line x1="242.00" y1="403.50" x2="250.75" y2="403.50" stroke="#7f9fc4" stroke-width="0.45" /><line x1="242.00" y1="405.60" x2="250.75" y2="405.60" stroke="#7f9fc4" stroke-width="0.45" /><line x1="242.00" y1="407.70" x2="250.75" y2="407.70" stroke="#7f9fc4" stroke-width="0.45" /><line x1="242.00" y1="409.80" x2="250.75" y2="409.80" stroke="#7f9fc4" stroke-width="0.45" /><line x1="242.00" y1="411.90" x2="250.75" y2="411.90" stroke="#7f9fc4" stroke-width="0.45" /><line x1="242.00" y1="414.00" x2="250.75" y2="414.00" stroke="#7f9fc4" stroke-width="0.45" /><line x1="242.00" y1="416.10" x2="250.75" y2="416.10" stroke="#7f9fc4" stroke-width="0.45" /><line x1="242.00" y1="418.20" x2="250.75" y2="418.20" stroke="#7f9fc4" stroke-width="0.45" /><line x1="242.00" y1="420.30" x2="250.75" y2="420.30" stroke="#7f9fc4" stroke-width="0.45" /><line x1="242.00" y1="422.40" x2="250.75" y2="422.40" stroke="#7f9fc4" stroke-width="0.45" /><line x1="242.00" y1="424.50" x2="250.75" y2="424.50" stroke="#7f9fc4" stroke-width="0.45" /><line x1="242.00" y1="426.60" x2="250.75" y2="426.60" stroke="#7f9fc4" stroke-width="0.45" /><line x1="242.00" y1="428.70" x2="250.75" y2="428.70" stroke="#7f9fc4" stroke-width="0.45" /><line x1="242.00" y1="430.80" x2="250.75" y2="430.80" stroke="#7f9fc4" stroke-width="0.45" /><line x1="242.00" y1="432.90" x2="250.75" y2="432.90" stroke="#7f9fc4" stroke-width="0.45" /><line x1="242.00" y1="435.00" x2="250.75" y2="435.00" stroke="#7f9fc4" stroke-width="0.45" /><line x1="242.00" y1="437.10" x2="250.75" y2="437.10" stroke="#7f9fc4" stroke-width="0.45" /><line x1="242.00" y1="439.20" x2="250.75" y2="439.20" stroke="#7f9fc4" stroke-width="0.45" /><line x1="242.00" y1="441.30" x2="250.75" y2="441.30" stroke="#7f9fc4" stroke-width="0.45" /><rect x="242.30" y="382.80" width="8.15" height="11.70" fill="none" stroke="#e8923a" stroke-width="0.7"/><line x1="296.25" y1="382.50" x2="296.25" y2="427.00" stroke="#e3e3e3" stroke-width="0.5" /><line x1="296.25" y1="427.00" x2="296.25" y2="428.60" stroke="#8a8a8a" stroke-width="0.5" /><line x1="321.06" y1="382.50" x2="321.06" y2="427.00" stroke="#e3e3e3" stroke-width="0.5" /><line x1="321.06" y1="427.00" x2="321.06" y2="428.60" stroke="#8a8a8a" stroke-width="0.5" /><line x1="345.88" y1="382.50" x2="345.88" y2="427.00" stroke="#e3e3e3" stroke-width="0.5" /><line x1="345.88" y1="427.00" x2="345.88" y2="428.60" stroke="#8a8a8a" stroke-width="0.5" /><line x1="370.69" y1="382.50" x2="370.69" y2="427.00" stroke="#e3e3e3" stroke-width="0.5" /><line x1="370.69" y1="427.00" x2="370.69" y2="428.60" stroke="#8a8a8a" stroke-width="0.5" /><line x1="395.50" y1="382.50" x2="395.50" y2="427.00" stroke="#e3e3e3" stroke-width="0.5" /><line x1="395.50" y1="427.00" x2="395.50" y2="428.60" stroke="#8a8a8a" stroke-width="0.5" /><line x1="420.31" y1="382.50" x2="420.31" y2="427.00" stroke="#e3e3e3" stroke-width="0.5" /><line x1="420.31" y1="427.00" x2="420.31" y2="428.60" stroke="#8a8a8a" stroke-width="0.5" /><line x1="445.12" y1="382.50" x2="445.12" y2="427.00" stroke="#e3e3e3" stroke-width="0.5" /><line x1="445.12" y1="427.00" x2="445.12" y2="428.60" stroke="#8a8a8a" stroke-width="0.5" /><line x1="469.94" y1="382.50" x2="469.94" y2="427.00" stroke="#e3e3e3" stroke-width="0.5" /><line x1="469.94" y1="427.00" x2="469.94" y2="428.60" stroke="#8a8a8a" stroke-width="0.5" /><line x1="494.75" y1="382.50" x2="494.75" y2="427.00" stroke="#e3e3e3" stroke-width="0.5" /><line x1="494.75" y1="427.00" x2="494.75" y2="428.60" stroke="#8a8a8a" stroke-width="0.5" /><line x1="519.56" y1="382.50" x2="519.56" y2="427.00" stroke="#e3e3e3" stroke-width="0.5" /><line x1="519.56" y1="427.00" x2="519.56" y2="428.60" stroke="#8a8a8a" stroke-width="0.5" /><line x1="544.38" y1="382.50" x2="544.38" y2="427.00" stroke="#e3e3e3" stroke-width="0.5" /><line x1="544.38" y1="427.00" x2="544.38" y2="428.60" stroke="#8a8a8a" stroke-width="0.5" /><line x1="569.19" y1="382.50" x2="569.19" y2="427.00" stroke="#e3e3e3" stroke-width="0.5" /><line x1="569.19" y1="427.00" x2="569.19" y2="428.60" stroke="#8a8a8a" stroke-width="0.5" /><line x1="594.00" y1="382.50" x2="594.00" y2="427.00" stroke="#e3e3e3" stroke-width="0.5" /><line x1="594.00" y1="427.00" x2="594.00" y2="428.60" stroke="#8a8a8a" stroke-width="0.5" /><line x1="296.25" y1="382.50" x2="594.00" y2="382.50" stroke="#e3e3e3" stroke-width="0.5" /><line x1="594.00" y1="382.50" x2="594.00" y2="427.00" stroke="#e3e3e3" stroke-width="0.5" /><rect x="296.25" y="382.90" width="278.15" height="5.56" fill="#4c78a8"/><line x1="294.55" y1="385.68" x2="296.25" y2="385.68" stroke="#666" stroke-width="0.6" /><text x="293.30" y="387.36" font-size="4.8" fill="#3a3a3a" text-anchor="end">Tia Sanders</text><rect x="296.25" y="389.26" width="278.15" height="5.56" fill="#4c78a8"/><line x1="294.55" y1="392.04" x2="296.25" y2="392.04" stroke="#666" stroke-width="0.6" /><text x="293.30" y="393.72" font-size="4.8" fill="#3a3a3a" text-anchor="end">Thomas Cook</text><rect x="296.25" y="395.61" width="277.65" height="5.56" fill="#4c78a8"/><line x1="294.55" y1="398.39" x2="296.25" y2="398.39" stroke="#666" stroke-width="0.6" /><text x="293.30" y="400.07" font-size="4.8" fill="#3a3a3a" text-anchor="end">Fang Shen</text><rect x="296.25" y="401.97" width="277.40" height="5.56" fill="#4c78a8"/><line x1="294.55" y1="404.75" x2="296.25" y2="404.75" stroke="#666" stroke-width="0.6" /><text x="293.30" y="406.43" font-size="4.8" fill="#3a3a3a" text-anchor="end">Seth Mcgregor</text><rect x="296.25" y="408.33" width="277.16" height="5.56" fill="#4c78a8"/><line x1="294.55" y1="411.11" x2="296.25" y2="411.11" stroke="#666" stroke-width="0.6" /><text x="293.30" y="412.79" font-size="4.8" fill="#3a3a3a" text-anchor="end">Elinor Silva</text><rect x="296.25" y="414.69" width="276.91" height="5.56" fill="#4c78a8"/><line x1="294.55" y1="417.46" x2="296.25" y2="417.46" stroke="#666" stroke-width="0.6" /><text x="293.30" y="419.14" font-size="4.8" fill="#3a3a3a" text-anchor="end">Shiyam Morcos</text><rect x="296.25" y="421.04" width="276.66" height="5.56" fill="#4c78a8"/><line x1="294.55" y1="423.82" x2="296.25" y2="423.82" stroke="#666" stroke-width="0.6" /><text x="293.30" y="425.50" font-size="4.8" fill="#3a3a3a" text-anchor="end">Tamar Loya</text><line x1="296.25" y1="382.50" x2="296.25" y2="427.00" stroke="#8a8a8a" stroke-width="0.5" /><line x1="296.25" y1="427.00" x2="594.00" y2="427.00" stroke="#8a8a8a" stroke-width="0.5" /><text x="297.45" y="435.30" font-size="4.6" fill="#3a3a3a" text-anchor="middle">0</text><text x="321.06" y="435.30" font-size="4.6" fill="#3a3a3a" text-anchor="middle">5</text><text x="345.88" y="435.30" font-size="4.6" fill="#3a3a3a" text-anchor="middle">10</text><text x="370.69" y="435.30" font-size="4.6" fill="#3a3a3a" text-anchor="middle">15</text><text x="395.50" y="435.30" font-size="4.6" fill="#3a3a3a" text-anchor="middle">20</text><text x="420.31" y="435.30" font-size="4.6" fill="#3a3a3a" text-anchor="middle">25</text><text x="445.12" y="435.30" font-size="4.6" fill="#3a3a3a" text-anchor="middle">30</text><text x="469.94" y="435.30" font-size="4.6" fill="#3a3a3a" text-anchor="middle">35</text><text x="494.75" y="435.30" font-size="4.6" fill="#3a3a3a" text-anchor="middle">40</text><text x="519.56" y="435.30" font-size="4.6" fill="#3a3a3a" text-anchor="middle">45</text><text x="544.38" y="435.30" font-size="4.6" fill="#3a3a3a" text-anchor="middle">50</text><text x="569.19" y="435.30" font-size="4.6" fill="#3a3a3a" text-anchor="middle">55</text><text x="594.50" y="435.30" font-size="4.6" fill="#3a3a3a" text-anchor="end">60</text><text x="445.00" y="441.60" font-size="4.6" fill="#3a3a3a" text-anchor="middle">Time (hours)</text><rect x="611.00" y="360.00" width="374.00" height="92.90" fill="#fafafa"/><text x="618.50" y="373.25" font-size="9.6" fill="#3a3a3a" textLength="81.25" lengthAdjust="spacingAndGlyphs" font-weight="bold">TOP DEPARTMENTS</text><path d="M949.02 366.40 L945.36 366.40 L945.36 372.96" fill="none" stroke="#858585" stroke-width="0.9"/><rect x="947.00" y="368.04" width="5.08" height="6.56" fill="none" rx="0.6" stroke="#858585" stroke-width="0.9"/><path d="M962.20 367.67 L962.24 366.50 L963.56 366.50 L963.60 367.67 L964.40 368.00 L965.25 367.20 L966.20 368.15 L965.40 369.00 L965.73 369.80 L966.90 369.84 L966.90 371.16 L965.73 371.20 L965.40 372.00 L966.20 372.85 L965.25 373.80 L964.40 373.00 L963.60 373.33 L963.56 374.50 L962.24 374.50 L962.20 373.33 L961.40 373.00 L960.55 373.80 L959.60 372.85 L960.40 372.00 L960.07 371.20 L958.90 371.16 L958.90 369.84 L960.07 369.80 L960.40 369.00 L959.60 368.15 L960.55 367.20 L961.40 368.00Z M961.60 370.50 a1.30 1.30 0 1 0 2.60 0 a1.30 1.30 0 1 0 -2.60 0Z" fill="#555" fill-rule="evenodd"/><line x1="971.30" y1="367.40" x2="977.50" y2="373.60" stroke="#aaa8ae" stroke-width="0.7" /><line x1="971.30" y1="373.60" x2="977.50" y2="367.40" stroke="#aaa8ae" stroke-width="0.7" /><rect x="622.25" y="382.50" width="9.50" height="59.50" fill="#f3b57d"/><rect x="622.70" y="383.20" width="8.40" height="8.40" fill="#4c78a8"/><rect x="622.70" y="393.20" width="6.60" height="8.40" fill="#4c78a8"/><rect x="622.70" y="403.20" width="5.40" height="8.40" fill="#4c78a8"/><rect x="622.70" y="413.20" width="5.40" height="8.40" fill="#4c78a8"/><rect x="622.45" y="382.70" width="9.10" height="59.10" fill="none" stroke="#e8a468" stroke-width="0.4"/><line x1="671.75" y1="382.50" x2="671.75" y2="427.00" stroke="#e3e3e3" stroke-width="0.5" /><line x1="671.75" y1="427.00" x2="671.75" y2="428.60" stroke="#8a8a8a" stroke-width="0.5" /><line x1="694.98" y1="382.50" x2="694.98" y2="427.00" stroke="#e3e3e3" stroke-width="0.5" /><line x1="694.98" y1="427.00" x2="694.98" y2="428.60" stroke="#8a8a8a" stroke-width="0.5" /><line x1="718.22" y1="382.50" x2="718.22" y2="427.00" stroke="#e3e3e3" stroke-width="0.5" /><line x1="718.22" y1="427.00" x2="718.22" y2="428.60" stroke="#8a8a8a" stroke-width="0.5" /><line x1="741.45" y1="382.50" x2="741.45" y2="427.00" stroke="#e3e3e3" stroke-width="0.5" /><line x1="741.45" y1="427.00" x2="741.45" y2="428.60" stroke="#8a8a8a" stroke-width="0.5" /><line x1="764.69" y1="382.50" x2="764.69" y2="427.00" stroke="#e3e3e3" stroke-width="0.5" /><line x1="764.69" y1="427.00" x2="764.69" y2="428.60" stroke="#8a8a8a" stroke-width="0.5" /><line x1="787.92" y1="382.50" x2="787.92" y2="427.00" stroke="#e3e3e3" stroke-width="0.5" /><line x1="787.92" y1="427.00" x2="787.92" y2="428.60" stroke="#8a8a8a" stroke-width="0.5" /><line x1="811.16" y1="382.50" x2="811.16" y2="427.00" stroke="#e3e3e3" stroke-width="0.5" /><line x1="811.16" y1="427.00" x2="811.16" y2="428.60" stroke="#8a8a8a" stroke-width="0.5" /><line x1="834.39" y1="382.50" x2="834.39" y2="427.00" stroke="#e3e3e3" stroke-width="0.5" /><line x1="834.39" y1="427.00" x2="834.39" y2="428.60" stroke="#8a8a8a" stroke-width="0.5" /><line x1="857.63" y1="382.50" x2="857.63" y2="427.00" stroke="#e3e3e3" stroke-width="0.5" /><line x1="857.63" y1="427.00" x2="857.63" y2="428.60" stroke="#8a8a8a" stroke-width="0.5" /><line x1="880.86" y1="382.50" x2="880.86" y2="427.00" stroke="#e3e3e3" stroke-width="0.5" /><line x1="880.86" y1="427.00" x2="880.86" y2="428.60" stroke="#8a8a8a" stroke-width="0.5" /><line x1="904.10" y1="382.50" x2="904.10" y2="427.00" stroke="#e3e3e3" stroke-width="0.5" /><line x1="904.10" y1="427.00" x2="904.10" y2="428.60" stroke="#8a8a8a" stroke-width="0.5" /><line x1="927.33" y1="382.50" x2="927.33" y2="427.00" stroke="#e3e3e3" stroke-width="0.5" /><line x1="927.33" y1="427.00" x2="927.33" y2="428.60" stroke="#8a8a8a" stroke-width="0.5" /><line x1="950.57" y1="382.50" x2="950.57" y2="427.00" stroke="#e3e3e3" stroke-width="0.5" /><line x1="950.57" y1="427.00" x2="950.57" y2="428.60" stroke="#8a8a8a" stroke-width="0.5" /><line x1="973.80" y1="382.50" x2="973.80" y2="427.00" stroke="#e3e3e3" stroke-width="0.5" /><line x1="973.80" y1="427.00" x2="973.80" y2="428.60" stroke="#8a8a8a" stroke-width="0.5" /><line x1="671.75" y1="382.50" x2="973.80" y2="382.50" stroke="#e3e3e3" stroke-width="0.5" /><line x1="973.80" y1="382.50" x2="973.80" y2="427.00" stroke="#e3e3e3" stroke-width="0.5" /><rect x="671.75" y="382.95" width="281.60" height="6.52" fill="#4c78a8"/><line x1="670.05" y1="386.21" x2="671.75" y2="386.21" stroke="#666" stroke-width="0.6" /><text x="668.30" y="387.89" font-size="4.8" fill="#3a3a3a" text-anchor="end">Sales</text><rect x="671.75" y="390.37" width="229.79" height="6.52" fill="#4c78a8"/><line x1="670.05" y1="393.62" x2="671.75" y2="393.62" stroke="#666" stroke-width="0.6" /><text x="668.30" y="395.31" font-size="4.8" fill="#3a3a3a" text-anchor="end">IT</text><rect x="671.75" y="397.78" width="180.58" height="6.52" fill="#4c78a8"/><line x1="670.05" y1="401.04" x2="671.75" y2="401.04" stroke="#666" stroke-width="0.6" /><text x="668.30" y="402.72" font-size="4.8" fill="#3a3a3a" text-anchor="end">Staff</text><rect x="671.75" y="405.20" width="178.44" height="6.52" fill="#4c78a8"/><line x1="670.05" y1="408.46" x2="671.75" y2="408.46" stroke="#666" stroke-width="0.6" /><text x="668.30" y="410.14" font-size="4.8" fill="#3a3a3a" text-anchor="end">Management</text><rect x="671.75" y="412.62" width="25.09" height="6.52" fill="#4c78a8"/><line x1="670.05" y1="415.88" x2="671.75" y2="415.88" stroke="#666" stroke-width="0.6" /><text x="668.30" y="417.56" font-size="4.8" fill="#3a3a3a" text-anchor="end">arick-test2</text><rect x="671.75" y="420.03" width="25.09" height="6.52" fill="#4c78a8"/><line x1="670.05" y1="423.29" x2="671.75" y2="423.29" stroke="#666" stroke-width="0.6" /><text x="668.30" y="424.97" font-size="4.8" fill="#3a3a3a" text-anchor="end">Arick1</text><line x1="671.75" y1="382.50" x2="671.75" y2="427.00" stroke="#8a8a8a" stroke-width="0.5" /><line x1="671.75" y1="427.00" x2="973.80" y2="427.00" stroke="#8a8a8a" stroke-width="0.5" /><text x="672.95" y="435.30" font-size="4.6" fill="#3a3a3a" text-anchor="middle">0</text><text x="694.98" y="435.30" font-size="4.6" fill="#3a3a3a" text-anchor="middle">50</text><text x="718.22" y="435.30" font-size="4.6" fill="#3a3a3a" text-anchor="middle">100</text><text x="741.45" y="435.30" font-size="4.6" fill="#3a3a3a" text-anchor="middle">150</text><text x="764.69" y="435.30" font-size="4.6" fill="#3a3a3a" text-anchor="middle">200</text><text x="787.92" y="435.30" font-size="4.6" fill="#3a3a3a" text-anchor="middle">250</text><text x="811.16" y="435.30" font-size="4.6" fill="#3a3a3a" text-anchor="middle">300</text><text x="834.39" y="435.30" font-size="4.6" fill="#3a3a3a" text-anchor="middle">350</text><text x="857.63" y="435.30" font-size="4.6" fill="#3a3a3a" text-anchor="middle">400</text><text x="880.86" y="435.30" font-size="4.6" fill="#3a3a3a" text-anchor="middle">450</text><text x="904.10" y="435.30" font-size="4.6" fill="#3a3a3a" text-anchor="middle">500</text><text x="927.33" y="435.30" font-size="4.6" fill="#3a3a3a" text-anchor="middle">550</text><text x="950.57" y="435.30" font-size="4.6" fill="#3a3a3a" text-anchor="middle">600</text><text x="974.30" y="435.30" font-size="4.6" fill="#3a3a3a" text-anchor="end">650</text><text x="822.50" y="441.60" font-size="4.6" fill="#3a3a3a" text-anchor="middle">Time (hours)</text><polygon points="984.0,447.5 984.0,451.8 979.7,451.8" fill="#b5b5b5"/><rect x="231.25" y="457.80" width="247.75" height="92.80" fill="#fafafa"/><text x="238.00" y="471.25" font-size="9.6" fill="#3a3a3a" textLength="71.25" lengthAdjust="spacingAndGlyphs" font-weight="bold">TOP CATEGORIES</text><path d="M442.72 464.65 L439.06 464.65 L439.06 471.21" fill="none" stroke="#858585" stroke-width="0.9"/><rect x="440.70" y="466.29" width="5.08" height="6.56" fill="none" rx="0.6" stroke="#858585" stroke-width="0.9"/><path d="M455.55 465.92 L455.59 464.75 L456.91 464.75 L456.95 465.92 L457.75 466.25 L458.60 465.45 L459.55 466.40 L458.75 467.25 L459.08 468.05 L460.25 468.09 L460.25 469.41 L459.08 469.45 L458.75 470.25 L459.55 471.10 L458.60 472.05 L457.75 471.25 L456.95 471.58 L456.91 472.75 L455.59 472.75 L455.55 471.58 L454.75 471.25 L453.90 472.05 L452.95 471.10 L453.75 470.25 L453.42 469.45 L452.25 469.41 L452.25 468.09 L453.42 468.05 L453.75 467.25 L452.95 466.40 L453.90 465.45 L454.75 466.25Z M454.95 468.75 a1.30 1.30 0 1 0 2.60 0 a1.30 1.30 0 1 0 -2.60 0Z" fill="#555" fill-rule="evenodd"/><line x1="464.40" y1="465.65" x2="470.60" y2="471.85" stroke="#aaa8ae" stroke-width="0.7" /><line x1="464.40" y1="471.85" x2="470.60" y2="465.65" stroke="#aaa8ae" stroke-width="0.7" /><rect x="242.00" y="480.75" width="9.00" height="59.75" fill="#fbfbfb" stroke="#d2d2d2" stroke-width="0.6"/><rect x="242.30" y="481.00" width="8.40" height="7.40" fill="#f8c99b" stroke="#e8923a" stroke-width="0.6"/><polygon points="242.6,481.4 247.0,481.4 243.4,484.5 242.9,500.0" fill="#4c78a8" opacity="0.85"/><line x1="321.75" y1="480.75" x2="321.75" y2="525.00" stroke="#e3e3e3" stroke-width="0.5" /><line x1="321.75" y1="525.00" x2="321.75" y2="526.60" stroke="#8a8a8a" stroke-width="0.5" /><line x1="344.17" y1="480.75" x2="344.17" y2="525.00" stroke="#e3e3e3" stroke-width="0.5" /><line x1="344.17" y1="525.00" x2="344.17" y2="526.60" stroke="#8a8a8a" stroke-width="0.5" /><line x1="366.60" y1="480.75" x2="366.60" y2="525.00" stroke="#e3e3e3" stroke-width="0.5" /><line x1="366.60" y1="525.00" x2="366.60" y2="526.60" stroke="#8a8a8a" stroke-width="0.5" /><line x1="389.02" y1="480.75" x2="389.02" y2="525.00" stroke="#e3e3e3" stroke-width="0.5" /><line x1="389.02" y1="525.00" x2="389.02" y2="526.60" stroke="#8a8a8a" stroke-width="0.5" /><line x1="411.44" y1="480.75" x2="411.44" y2="525.00" stroke="#e3e3e3" stroke-width="0.5" /><line x1="411.44" y1="525.00" x2="411.44" y2="526.60" stroke="#8a8a8a" stroke-width="0.5" /><line x1="433.87" y1="480.75" x2="433.87" y2="525.00" stroke="#e3e3e3" stroke-width="0.5" /><line x1="433.87" y1="525.00" x2="433.87" y2="526.60" stroke="#8a8a8a" stroke-width="0.5" /><line x1="456.29" y1="480.75" x2="456.29" y2="525.00" stroke="#e3e3e3" stroke-width="0.5" /><line x1="456.29" y1="525.00" x2="456.29" y2="526.60" stroke="#8a8a8a" stroke-width="0.5" /><line x1="321.75" y1="480.75" x2="467.50" y2="480.75" stroke="#e3e3e3" stroke-width="0.5" /><line x1="467.50" y1="480.75" x2="467.50" y2="525.00" stroke="#e3e3e3" stroke-width="0.5" /><rect x="321.75" y="481.15" width="135.21" height="5.52" fill="#4c78a8"/><line x1="320.05" y1="483.91" x2="321.75" y2="483.91" stroke="#666" stroke-width="0.6" /><text x="318.40" y="485.59" font-size="4.8" fill="#3a3a3a" text-anchor="end">Native app</text><rect x="321.75" y="487.47" width="55.16" height="5.52" fill="#4c78a8"/><line x1="320.05" y1="490.23" x2="321.75" y2="490.23" stroke="#666" stroke-width="0.6" /><text x="318.40" y="491.91" font-size="4.8" fill="#3a3a3a" text-anchor="end">News</text><rect x="321.75" y="493.79" width="32.74" height="5.52" fill="#4c78a8"/><line x1="320.05" y1="496.55" x2="321.75" y2="496.55" stroke="#666" stroke-width="0.6" /><text x="318.40" y="498.23" font-size="4.8" fill="#3a3a3a" text-anchor="end">YouTube</text><rect x="321.75" y="500.11" width="32.74" height="5.52" fill="#4c78a8"/><line x1="320.05" y1="502.88" x2="321.75" y2="502.88" stroke="#666" stroke-width="0.6" /><text x="318.40" y="504.56" font-size="4.8" fill="#3a3a3a" text-anchor="end">Web based Mail</text><rect x="321.75" y="506.44" width="29.37" height="5.52" fill="#4c78a8"/><line x1="320.05" y1="509.20" x2="321.75" y2="509.20" stroke="#666" stroke-width="0.6" /><text x="318.40" y="510.88" font-size="4.8" fill="#3a3a3a" text-anchor="end">Social Networks in General</text><rect x="321.75" y="512.76" width="20.63" height="5.52" fill="#4c78a8"/><line x1="320.05" y1="515.52" x2="321.75" y2="515.52" stroke="#666" stroke-width="0.6" /><text x="318.40" y="517.20" font-size="4.8" fill="#3a3a3a" text-anchor="end">LinkedIn</text><rect x="321.75" y="519.08" width="20.63" height="5.52" fill="#4c78a8"/><line x1="320.05" y1="521.84" x2="321.75" y2="521.84" stroke="#666" stroke-width="0.6" /><text x="318.40" y="523.52" font-size="4.8" fill="#3a3a3a" text-anchor="end">Business &amp; Commercial</text><line x1="321.75" y1="480.75" x2="321.75" y2="525.00" stroke="#8a8a8a" stroke-width="0.5" /><line x1="321.75" y1="525.00" x2="467.50" y2="525.00" stroke="#8a8a8a" stroke-width="0.5" /><text x="322.95" y="533.20" font-size="4.6" fill="#3a3a3a" text-anchor="middle">0</text><text x="344.17" y="533.20" font-size="4.6" fill="#3a3a3a" text-anchor="middle">100</text><text x="366.60" y="533.20" font-size="4.6" fill="#3a3a3a" text-anchor="middle">200</text><text x="389.02" y="533.20" font-size="4.6" fill="#3a3a3a" text-anchor="middle">300</text><text x="411.44" y="533.20" font-size="4.6" fill="#3a3a3a" text-anchor="middle">400</text><text x="433.87" y="533.20" font-size="4.6" fill="#3a3a3a" text-anchor="middle">500</text><text x="456.29" y="533.20" font-size="4.6" fill="#3a3a3a" text-anchor="middle">600</text><text x="395.00" y="540.20" font-size="4.6" fill="#3a3a3a" text-anchor="middle">Time (hours)</text><rect x="484.25" y="457.80" width="247.25" height="92.80" fill="#fafafa"/><text x="491.50" y="471.25" font-size="9.6" fill="#3a3a3a" textLength="114.00" lengthAdjust="spacingAndGlyphs" font-weight="bold">TOP SECURITY CATEGORIES</text><path d="M696.22 464.65 L692.56 464.65 L692.56 471.21" fill="none" stroke="#858585" stroke-width="0.9"/><rect x="694.20" y="466.29" width="5.08" height="6.56" fill="none" rx="0.6" stroke="#858585" stroke-width="0.9"/><path d="M709.05 465.92 L709.09 464.75 L710.41 464.75 L710.45 465.92 L711.25 466.25 L712.10 465.45 L713.05 466.40 L712.25 467.25 L712.58 468.05 L713.75 468.09 L713.75 469.41 L712.58 469.45 L712.25 470.25 L713.05 471.10 L712.10 472.05 L711.25 471.25 L710.45 471.58 L710.41 472.75 L709.09 472.75 L709.05 471.58 L708.25 471.25 L707.40 472.05 L706.45 471.10 L707.25 470.25 L706.92 469.45 L705.75 469.41 L705.75 468.09 L706.92 468.05 L707.25 467.25 L706.45 466.40 L707.40 465.45 L708.25 466.25Z M708.45 468.75 a1.30 1.30 0 1 0 2.60 0 a1.30 1.30 0 1 0 -2.60 0Z" fill="#555" fill-rule="evenodd"/><line x1="717.90" y1="465.65" x2="724.10" y2="471.85" stroke="#aaa8ae" stroke-width="0.7" /><line x1="717.90" y1="471.85" x2="724.10" y2="465.65" stroke="#aaa8ae" stroke-width="0.7" /><line x1="530.50" y1="481.25" x2="530.50" y2="524.50" stroke="#e3e3e3" stroke-width="0.5" /><line x1="530.50" y1="524.50" x2="530.50" y2="526.10" stroke="#8a8a8a" stroke-width="0.5" /><line x1="544.11" y1="481.25" x2="544.11" y2="524.50" stroke="#e3e3e3" stroke-width="0.5" /><line x1="544.11" y1="524.50" x2="544.11" y2="526.10" stroke="#8a8a8a" stroke-width="0.5" /><line x1="557.71" y1="481.25" x2="557.71" y2="524.50" stroke="#e3e3e3" stroke-width="0.5" /><line x1="557.71" y1="524.50" x2="557.71" y2="526.10" stroke="#8a8a8a" stroke-width="0.5" /><line x1="571.32" y1="481.25" x2="571.32" y2="524.50" stroke="#e3e3e3" stroke-width="0.5" /><line x1="571.32" y1="524.50" x2="571.32" y2="526.10" stroke="#8a8a8a" stroke-width="0.5" /><line x1="584.93" y1="481.25" x2="584.93" y2="524.50" stroke="#e3e3e3" stroke-width="0.5" /><line x1="584.93" y1="524.50" x2="584.93" y2="526.10" stroke="#8a8a8a" stroke-width="0.5" /><line x1="598.54" y1="481.25" x2="598.54" y2="524.50" stroke="#e3e3e3" stroke-width="0.5" /><line x1="598.54" y1="524.50" x2="598.54" y2="526.10" stroke="#8a8a8a" stroke-width="0.5" /><line x1="612.14" y1="481.25" x2="612.14" y2="524.50" stroke="#e3e3e3" stroke-width="0.5" /><line x1="612.14" y1="524.50" x2="612.14" y2="526.10" stroke="#8a8a8a" stroke-width="0.5" /><line x1="625.75" y1="481.25" x2="625.75" y2="524.50" stroke="#e3e3e3" stroke-width="0.5" /><line x1="625.75" y1="524.50" x2="625.75" y2="526.10" stroke="#8a8a8a" stroke-width="0.5" /><line x1="639.36" y1="481.25" x2="639.36" y2="524.50" stroke="#e3e3e3" stroke-width="0.5" /><line x1="639.36" y1="524.50" x2="639.36" y2="526.10" stroke="#8a8a8a" stroke-width="0.5" /><line x1="652.96" y1="481.25" x2="652.96" y2="524.50" stroke="#e3e3e3" stroke-width="0.5" /><line x1="652.96" y1="524.50" x2="652.96" y2="526.10" stroke="#8a8a8a" stroke-width="0.5" /><line x1="666.57" y1="481.25" x2="666.57" y2="524.50" stroke="#e3e3e3" stroke-width="0.5" /><line x1="666.57" y1="524.50" x2="666.57" y2="526.10" stroke="#8a8a8a" stroke-width="0.5" /><line x1="680.18" y1="481.25" x2="680.18" y2="524.50" stroke="#e3e3e3" stroke-width="0.5" /><line x1="680.18" y1="524.50" x2="680.18" y2="526.10" stroke="#8a8a8a" stroke-width="0.5" /><line x1="693.79" y1="481.25" x2="693.79" y2="524.50" stroke="#e3e3e3" stroke-width="0.5" /><line x1="693.79" y1="524.50" x2="693.79" y2="526.10" stroke="#8a8a8a" stroke-width="0.5" /><line x1="707.39" y1="481.25" x2="707.39" y2="524.50" stroke="#e3e3e3" stroke-width="0.5" /><line x1="707.39" y1="524.50" x2="707.39" y2="526.10" stroke="#8a8a8a" stroke-width="0.5" /><line x1="721.00" y1="481.25" x2="721.00" y2="524.50" stroke="#e3e3e3" stroke-width="0.5" /><line x1="721.00" y1="524.50" x2="721.00" y2="526.10" stroke="#8a8a8a" stroke-width="0.5" /><line x1="530.50" y1="481.25" x2="721.00" y2="481.25" stroke="#e3e3e3" stroke-width="0.5" /><line x1="721.00" y1="481.25" x2="721.00" y2="524.50" stroke="#e3e3e3" stroke-width="0.5" /><rect x="530.50" y="482.05" width="186.96" height="20.02" fill="#4c78a8"/><line x1="528.80" y1="492.06" x2="530.50" y2="492.06" stroke="#666" stroke-width="0.6" /><text x="527.30" y="493.74" font-size="4.8" fill="#3a3a3a" text-anchor="end">Uncategorized</text><rect x="530.50" y="503.68" width="82.46" height="20.02" fill="#4c78a8"/><line x1="528.80" y1="513.69" x2="530.50" y2="513.69" stroke="#666" stroke-width="0.6" /><text x="527.30" y="515.37" font-size="4.8" fill="#3a3a3a" text-anchor="end">Native app</text><line x1="530.50" y1="481.25" x2="530.50" y2="524.50" stroke="#8a8a8a" stroke-width="0.5" /><line x1="530.50" y1="524.50" x2="721.00" y2="524.50" stroke="#8a8a8a" stroke-width="0.5" /><text x="531.70" y="533.20" font-size="4.6" fill="#3a3a3a" text-anchor="middle">0</text><text x="557.71" y="533.20" font-size="4.6" fill="#3a3a3a" text-anchor="middle">200</text><text x="584.93" y="533.20" font-size="4.6" fill="#3a3a3a" text-anchor="middle">400</text><text x="612.14" y="533.20" font-size="4.6" fill="#3a3a3a" text-anchor="middle">600</text><text x="639.36" y="533.20" font-size="4.6" fill="#3a3a3a" text-anchor="middle">800</text><text x="666.57" y="533.20" font-size="4.6" fill="#3a3a3a" text-anchor="middle">1,000</text><text x="693.79" y="533.20" font-size="4.6" fill="#3a3a3a" text-anchor="middle">1,200</text><text x="721.50" y="533.20" font-size="4.6" fill="#3a3a3a" text-anchor="end">1,400</text><text x="626.00" y="540.20" font-size="4.6" fill="#3a3a3a" text-anchor="middle">Time (hours)</text><rect x="737.00" y="457.80" width="248.00" height="92.80" fill="#fafafa"/><text x="744.70" y="471.25" font-size="9.6" fill="#3a3a3a" textLength="77.90" lengthAdjust="spacingAndGlyphs" font-weight="bold">TOP REPUTATIONS</text><path d="M949.02 464.30 L945.36 464.30 L945.36 470.86" fill="none" stroke="#858585" stroke-width="0.9"/><rect x="947.00" y="465.94" width="5.08" height="6.56" fill="none" rx="0.6" stroke="#858585" stroke-width="0.9"/><path d="M962.20 465.57 L962.24 464.40 L963.56 464.40 L963.60 465.57 L964.40 465.90 L965.25 465.10 L966.20 466.05 L965.40 466.90 L965.73 467.70 L966.90 467.74 L966.90 469.06 L965.73 469.10 L965.40 469.90 L966.20 470.75 L965.25 471.70 L964.40 470.90 L963.60 471.23 L963.56 472.40 L962.24 472.40 L962.20 471.23 L961.40 470.90 L960.55 471.70 L959.60 470.75 L960.40 469.90 L960.07 469.10 L958.90 469.06 L958.90 467.74 L960.07 467.70 L960.40 466.90 L959.60 466.05 L960.55 465.10 L961.40 465.90Z M961.60 468.40 a1.30 1.30 0 1 0 2.60 0 a1.30 1.30 0 1 0 -2.60 0Z" fill="#555" fill-rule="evenodd"/><line x1="971.30" y1="465.30" x2="977.50" y2="471.50" stroke="#aaa8ae" stroke-width="0.7" /><line x1="971.30" y1="471.50" x2="977.50" y2="465.30" stroke="#aaa8ae" stroke-width="0.7" /><line x1="784.00" y1="481.00" x2="784.00" y2="525.00" stroke="#e3e3e3" stroke-width="0.5" /><line x1="784.00" y1="525.00" x2="784.00" y2="526.60" stroke="#8a8a8a" stroke-width="0.5" /><line x1="797.60" y1="481.00" x2="797.60" y2="525.00" stroke="#e3e3e3" stroke-width="0.5" /><line x1="797.60" y1="525.00" x2="797.60" y2="526.60" stroke="#8a8a8a" stroke-width="0.5" /><line x1="811.20" y1="481.00" x2="811.20" y2="525.00" stroke="#e3e3e3" stroke-width="0.5" /><line x1="811.20" y1="525.00" x2="811.20" y2="526.60" stroke="#8a8a8a" stroke-width="0.5" /><line x1="824.80" y1="481.00" x2="824.80" y2="525.00" stroke="#e3e3e3" stroke-width="0.5" /><line x1="824.80" y1="525.00" x2="824.80" y2="526.60" stroke="#8a8a8a" stroke-width="0.5" /><line x1="838.40" y1="481.00" x2="838.40" y2="525.00" stroke="#e3e3e3" stroke-width="0.5" /><line x1="838.40" y1="525.00" x2="838.40" y2="526.60" stroke="#8a8a8a" stroke-width="0.5" /><line x1="852.00" y1="481.00" x2="852.00" y2="525.00" stroke="#e3e3e3" stroke-width="0.5" /><line x1="852.00" y1="525.00" x2="852.00" y2="526.60" stroke="#8a8a8a" stroke-width="0.5" /><line x1="865.60" y1="481.00" x2="865.60" y2="525.00" stroke="#e3e3e3" stroke-width="0.5" /><line x1="865.60" y1="525.00" x2="865.60" y2="526.60" stroke="#8a8a8a" stroke-width="0.5" /><line x1="879.20" y1="481.00" x2="879.20" y2="525.00" stroke="#e3e3e3" stroke-width="0.5" /><line x1="879.20" y1="525.00" x2="879.20" y2="526.60" stroke="#8a8a8a" stroke-width="0.5" /><line x1="892.80" y1="481.00" x2="892.80" y2="525.00" stroke="#e3e3e3" stroke-width="0.5" /><line x1="892.80" y1="525.00" x2="892.80" y2="526.60" stroke="#8a8a8a" stroke-width="0.5" /><line x1="906.40" y1="481.00" x2="906.40" y2="525.00" stroke="#e3e3e3" stroke-width="0.5" /><line x1="906.40" y1="525.00" x2="906.40" y2="526.60" stroke="#8a8a8a" stroke-width="0.5" /><line x1="920.00" y1="481.00" x2="920.00" y2="525.00" stroke="#e3e3e3" stroke-width="0.5" /><line x1="920.00" y1="525.00" x2="920.00" y2="526.60" stroke="#8a8a8a" stroke-width="0.5" /><line x1="933.60" y1="481.00" x2="933.60" y2="525.00" stroke="#e3e3e3" stroke-width="0.5" /><line x1="933.60" y1="525.00" x2="933.60" y2="526.60" stroke="#8a8a8a" stroke-width="0.5" /><line x1="947.20" y1="481.00" x2="947.20" y2="525.00" stroke="#e3e3e3" stroke-width="0.5" /><line x1="947.20" y1="525.00" x2="947.20" y2="526.60" stroke="#8a8a8a" stroke-width="0.5" /><line x1="960.80" y1="481.00" x2="960.80" y2="525.00" stroke="#e3e3e3" stroke-width="0.5" /><line x1="960.80" y1="525.00" x2="960.80" y2="526.60" stroke="#8a8a8a" stroke-width="0.5" /><line x1="974.40" y1="481.00" x2="974.40" y2="525.00" stroke="#e3e3e3" stroke-width="0.5" /><line x1="974.40" y1="525.00" x2="974.40" y2="526.60" stroke="#8a8a8a" stroke-width="0.5" /><line x1="784.00" y1="481.00" x2="974.40" y2="481.00" stroke="#e3e3e3" stroke-width="0.5" /><line x1="974.40" y1="481.00" x2="974.40" y2="525.00" stroke="#e3e3e3" stroke-width="0.5" /><rect x="784.00" y="481.70" width="187.00" height="13.27" fill="#4c78a8"/><line x1="782.30" y1="488.33" x2="784.00" y2="488.33" stroke="#666" stroke-width="0.6" /><text x="780.60" y="490.01" font-size="4.8" fill="#3a3a3a" text-anchor="end">Low Risk</text><rect x="784.00" y="496.37" width="82.01" height="13.27" fill="#4c78a8"/><line x1="782.30" y1="503.00" x2="784.00" y2="503.00" stroke="#666" stroke-width="0.6" /><text x="780.60" y="504.68" font-size="4.8" fill="#3a3a3a" text-anchor="end">Native app</text><line x1="782.30" y1="517.67" x2="784.00" y2="517.67" stroke="#666" stroke-width="0.6" /><text x="780.60" y="519.35" font-size="4.8" fill="#3a3a3a" text-anchor="end">Uncategorized</text><line x1="784.00" y1="481.00" x2="784.00" y2="525.00" stroke="#8a8a8a" stroke-width="0.5" /><line x1="784.00" y1="525.00" x2="974.40" y2="525.00" stroke="#8a8a8a" stroke-width="0.5" /><text x="785.20" y="532.80" font-size="4.6" fill="#3a3a3a" text-anchor="middle">0</text><text x="811.20" y="532.80" font-size="4.6" fill="#3a3a3a" text-anchor="middle">200</text><text x="838.40" y="532.80" font-size="4.6" fill="#3a3a3a" text-anchor="middle">400</text><text x="865.60" y="532.80" font-size="4.6" fill="#3a3a3a" text-anchor="middle">600</text><text x="892.80" y="532.80" font-size="4.6" fill="#3a3a3a" text-anchor="middle">800</text><text x="920.00" y="532.80" font-size="4.6" fill="#3a3a3a" text-anchor="middle">1,000</text><text x="947.20" y="532.80" font-size="4.6" fill="#3a3a3a" text-anchor="middle">1,200</text><text x="974.90" y="532.80" font-size="4.6" fill="#3a3a3a" text-anchor="end">1,400</text><text x="878.80" y="539.40" font-size="4.6" fill="#3a3a3a" text-anchor="middle">Time (hours)</text><rect x="231.25" y="556.00" width="374.75" height="92.75" fill="#fafafa"/><text x="238.00" y="569.25" font-size="9.6" fill="#3a3a3a" textLength="110.25" lengthAdjust="spacingAndGlyphs" font-weight="bold">CLASSIFICATION TIMELINE</text><path d="M569.22 562.65 L565.56 562.65 L565.56 569.21" fill="none" stroke="#858585" stroke-width="0.9"/><rect x="567.20" y="564.29" width="5.08" height="6.56" fill="none" rx="0.6" stroke="#858585" stroke-width="0.9"/><path d="M582.30 563.92 L582.34 562.75 L583.66 562.75 L583.70 563.92 L584.50 564.25 L585.35 563.45 L586.30 564.40 L585.50 565.25 L585.83 566.05 L587.00 566.09 L587.00 567.41 L585.83 567.45 L585.50 568.25 L586.30 569.10 L585.35 570.05 L584.50 569.25 L583.70 569.58 L583.66 570.75 L582.34 570.75 L582.30 569.58 L581.50 569.25 L580.65 570.05 L579.70 569.10 L580.50 568.25 L580.17 567.45 L579.00 567.41 L579.00 566.09 L580.17 566.05 L580.50 565.25 L579.70 564.40 L580.65 563.45 L581.50 564.25Z M581.70 566.75 a1.30 1.30 0 1 0 2.60 0 a1.30 1.30 0 1 0 -2.60 0Z" fill="#555" fill-rule="evenodd"/><line x1="591.15" y1="563.65" x2="597.35" y2="569.85" stroke="#aaa8ae" stroke-width="0.7" /><line x1="591.15" y1="569.85" x2="597.35" y2="563.65" stroke="#aaa8ae" stroke-width="0.7" /><line x1="260.75" y1="581.25" x2="260.75" y2="630.00" stroke="#e3e3e3" stroke-width="0.5" /><line x1="284.77" y1="581.25" x2="284.77" y2="630.00" stroke="#e3e3e3" stroke-width="0.5" /><line x1="308.79" y1="581.25" x2="308.79" y2="630.00" stroke="#e3e3e3" stroke-width="0.5" /><line x1="332.81" y1="581.25" x2="332.81" y2="630.00" stroke="#e3e3e3" stroke-width="0.5" /><line x1="356.83" y1="581.25" x2="356.83" y2="630.00" stroke="#e3e3e3" stroke-width="0.5" /><line x1="380.85" y1="581.25" x2="380.85" y2="630.00" stroke="#e3e3e3" stroke-width="0.5" /><line x1="404.88" y1="581.25" x2="404.88" y2="630.00" stroke="#e3e3e3" stroke-width="0.5" /><line x1="428.90" y1="581.25" x2="428.90" y2="630.00" stroke="#e3e3e3" stroke-width="0.5" /><line x1="452.92" y1="581.25" x2="452.92" y2="630.00" stroke="#e3e3e3" stroke-width="0.5" /><line x1="476.94" y1="581.25" x2="476.94" y2="630.00" stroke="#e3e3e3" stroke-width="0.5" /><line x1="500.96" y1="581.25" x2="500.96" y2="630.00" stroke="#e3e3e3" stroke-width="0.5" /><line x1="524.98" y1="581.25" x2="524.98" y2="630.00" stroke="#e3e3e3" stroke-width="0.5" /><line x1="549.00" y1="581.25" x2="549.00" y2="630.00" stroke="#e3e3e3" stroke-width="0.5" /><line x1="260.75" y1="613.75" x2="549.00" y2="613.75" stroke="#e3e3e3" stroke-width="0.5" /><line x1="260.75" y1="597.50" x2="549.00" y2="597.50" stroke="#e3e3e3" stroke-width="0.5" /><line x1="260.75" y1="581.25" x2="549.00" y2="581.25" stroke="#e3e3e3" stroke-width="0.5" /><polygon points="260.8,615.7 272.8,615.4 284.8,614.9 296.8,614.6 308.8,614.2 320.8,613.9 332.8,613.8 344.8,613.6 356.8,613.4 368.8,613.3 380.9,613.3 392.9,613.1 404.9,613.1 416.9,613.3 428.9,613.4 440.9,613.6 452.9,613.8 464.9,613.9 476.9,613.9 488.9,613.9 501.0,613.8 513.0,613.6 525.0,613.4 537.0,613.3 549.0,613.1 549.0,630.0 537.0,630.0 525.0,630.0 513.0,630.0 501.0,630.0 488.9,630.0 476.9,630.0 464.9,630.0 452.9,630.0 440.9,630.0 428.9,630.0 416.9,630.0 404.9,630.0 392.9,630.0 380.9,630.0 368.8,630.0 356.8,630.0 344.8,630.0 332.8,630.0 320.8,630.0 308.8,630.0 296.8,630.0 284.8,630.0 272.8,630.0 260.8,630.0" fill="#f58518"/><polygon points="260.8,603.7 272.8,603.7 284.8,603.8 296.8,603.8 308.8,603.7 320.8,603.4 332.8,603.0 344.8,602.7 356.8,602.5 368.8,602.7 380.9,603.0 392.9,603.5 404.9,603.8 416.9,603.7 428.9,603.4 440.9,603.0 452.9,602.7 464.9,602.5 476.9,602.7 488.9,603.2 501.0,603.7 513.0,603.8 525.0,603.7 537.0,603.4 549.0,603.2 549.0,613.1 537.0,613.3 525.0,613.4 513.0,613.6 501.0,613.8 488.9,613.9 476.9,613.9 464.9,613.9 452.9,613.8 440.9,613.6 428.9,613.4 416.9,613.3 404.9,613.1 392.9,613.1 380.9,613.3 368.8,613.3 356.8,613.4 344.8,613.6 332.8,613.8 320.8,613.9 308.8,614.2 296.8,614.6 284.8,614.9 272.8,615.4 260.8,615.7" fill="#9ecae9"/><polygon points="260.8,583.4 272.8,583.4 284.8,583.4 296.8,583.4 308.8,583.4 320.8,583.4 332.8,583.4 344.8,583.4 356.8,583.4 368.8,583.4 380.9,583.4 392.9,583.4 404.9,583.4 416.9,583.4 428.9,583.4 440.9,583.4 452.9,583.4 464.9,583.4 476.9,583.4 488.9,583.4 501.0,583.4 513.0,583.4 525.0,583.4 537.0,583.4 549.0,583.4 549.0,603.2 537.0,603.4 525.0,603.7 513.0,603.8 501.0,603.7 488.9,603.2 476.9,602.7 464.9,602.5 452.9,602.7 440.9,603.0 428.9,603.4 416.9,603.7 404.9,603.8 392.9,603.5 380.9,603.0 368.8,602.7 356.8,602.5 344.8,602.7 332.8,603.0 320.8,603.4 308.8,603.7 296.8,603.8 284.8,603.8 272.8,603.7 260.8,603.7" fill="#4c78a8"/><line x1="260.75" y1="581.25" x2="260.75" y2="630.00" stroke="#8a8a8a" stroke-width="0.5" /><line x1="260.75" y1="630.00" x2="549.00" y2="630.00" stroke="#8a8a8a" stroke-width="0.5" /><line x1="259.15" y1="630.00" x2="260.75" y2="630.00" stroke="#8a8a8a" stroke-width="0.5" /><text x="257.30" y="631.60" font-size="4.6" fill="#3a3a3a" text-anchor="end">0</text><line x1="259.15" y1="613.75" x2="260.75" y2="613.75" stroke="#8a8a8a" stroke-width="0.5" /><text x="257.30" y="615.35" font-size="4.6" fill="#3a3a3a" text-anchor="end">100</text><line x1="259.15" y1="597.50" x2="260.75" y2="597.50" stroke="#8a8a8a" stroke-width="0.5" /><text x="257.30" y="599.10" font-size="4.6" fill="#3a3a3a" text-anchor="end">200</text><line x1="259.15" y1="581.25" x2="260.75" y2="581.25" stroke="#8a8a8a" stroke-width="0.5" /><text x="257.30" y="582.85" font-size="4.6" fill="#3a3a3a" text-anchor="end">300</text><text transform="translate(246.6 606) rotate(-90)" font-size="4.5" fill="#3a3a3a" text-anchor="middle">Time (hours)</text><line x1="260.75" y1="630.00" x2="260.75" y2="631.60" stroke="#8a8a8a" stroke-width="0.5" /><text x="260.75" y="638.00" font-size="4.6" fill="#3a3a3a">Apr 10</text><line x1="284.77" y1="630.00" x2="284.77" y2="631.60" stroke="#8a8a8a" stroke-width="0.5" /><text x="284.77" y="638.00" font-size="4.6" fill="#3a3a3a" text-anchor="middle">12 PM</text><line x1="308.79" y1="630.00" x2="308.79" y2="631.60" stroke="#8a8a8a" stroke-width="0.5" /><text x="308.79" y="638.00" font-size="4.6" fill="#3a3a3a" text-anchor="middle">Mon 11</text><line x1="332.81" y1="630.00" x2="332.81" y2="631.60" stroke="#8a8a8a" stroke-width="0.5" /><text x="332.81" y="638.00" font-size="4.6" fill="#3a3a3a" text-anchor="middle">12 PM</text><line x1="356.83" y1="630.00" x2="356.83" y2="631.60" stroke="#8a8a8a" stroke-width="0.5" /><text x="356.83" y="638.00" font-size="4.6" fill="#3a3a3a" text-anchor="middle">Tue 12</text><line x1="380.85" y1="630.00" x2="380.85" y2="631.60" stroke="#8a8a8a" stroke-width="0.5" /><text x="380.85" y="638.00" font-size="4.6" fill="#3a3a3a" text-anchor="middle">12 PM</text><line x1="404.88" y1="630.00" x2="404.88" y2="631.60" stroke="#8a8a8a" stroke-width="0.5" /><text x="404.88" y="638.00" font-size="4.6" fill="#3a3a3a" text-anchor="middle">Wed 13</text><line x1="428.90" y1="630.00" x2="428.90" y2="631.60" stroke="#8a8a8a" stroke-width="0.5" /><text x="428.90" y="638.00" font-size="4.6" fill="#3a3a3a" text-anchor="middle">12 PM</text><line x1="452.92" y1="630.00" x2="452.92" y2="631.60" stroke="#8a8a8a" stroke-width="0.5" /><text x="452.92" y="638.00" font-size="4.6" fill="#3a3a3a" text-anchor="middle">Thu 14</text><line x1="476.94" y1="630.00" x2="476.94" y2="631.60" stroke="#8a8a8a" stroke-width="0.5" /><text x="476.94" y="638.00" font-size="4.6" fill="#3a3a3a" text-anchor="middle">12 PM</text><line x1="500.96" y1="630.00" x2="500.96" y2="631.60" stroke="#8a8a8a" stroke-width="0.5" /><text x="500.96" y="638.00" font-size="4.6" fill="#3a3a3a" text-anchor="middle">Fri 15</text><line x1="524.98" y1="630.00" x2="524.98" y2="631.60" stroke="#8a8a8a" stroke-width="0.5" /><text x="524.98" y="638.00" font-size="4.6" fill="#3a3a3a" text-anchor="middle">12 PM</text><line x1="549.00" y1="630.00" x2="549.00" y2="631.60" stroke="#8a8a8a" stroke-width="0.5" /><text x="549.60" y="638.00" font-size="4.6" fill="#3a3a3a" text-anchor="end">Sat 16</text><text x="558.00" y="585.20" font-size="4.8999999999999995" fill="#2a2a2a" font-weight="bold">Classification</text><path d="M560.60 589.00 L562.90 591.30 L560.60 593.60 L558.30 591.30Z" fill="#4c78a8" stroke="#4c78a8" stroke-width="0.5"/><text x="565.40" y="593.00" font-size="4.8" fill="#3a3a3a">Productive</text><path d="M560.60 595.45 L562.90 597.75 L560.60 600.05 L558.30 597.75Z" fill="#9ecae9" stroke="#9ecae9" stroke-width="0.5"/><text x="565.40" y="599.45" font-size="4.8" fill="#3a3a3a">Unclassified</text><path d="M560.60 601.90 L562.90 604.20 L560.60 606.50 L558.30 604.20Z" fill="#f58518" stroke="#f58518" stroke-width="0.5"/><text x="565.40" y="605.90" font-size="4.8" fill="#3a3a3a">Unproductive</text><rect x="611.00" y="556.00" width="374.00" height="92.75" fill="#fafafa"/><text x="618.50" y="569.25" font-size="9.6" fill="#3a3a3a" textLength="113.00" lengthAdjust="spacingAndGlyphs" font-weight="bold">TOP CATEGORIES TIMELINE</text><path d="M949.02 562.40 L945.36 562.40 L945.36 568.96" fill="none" stroke="#858585" stroke-width="0.9"/><rect x="947.00" y="564.04" width="5.08" height="6.56" fill="none" rx="0.6" stroke="#858585" stroke-width="0.9"/><path d="M962.20 563.67 L962.24 562.50 L963.56 562.50 L963.60 563.67 L964.40 564.00 L965.25 563.20 L966.20 564.15 L965.40 565.00 L965.73 565.80 L966.90 565.84 L966.90 567.16 L965.73 567.20 L965.40 568.00 L966.20 568.85 L965.25 569.80 L964.40 569.00 L963.60 569.33 L963.56 570.50 L962.24 570.50 L962.20 569.33 L961.40 569.00 L960.55 569.80 L959.60 568.85 L960.40 568.00 L960.07 567.20 L958.90 567.16 L958.90 565.84 L960.07 565.80 L960.40 565.00 L959.60 564.15 L960.55 563.20 L961.40 564.00Z M961.60 566.50 a1.30 1.30 0 1 0 2.60 0 a1.30 1.30 0 1 0 -2.60 0Z" fill="#555" fill-rule="evenodd"/><line x1="971.30" y1="563.40" x2="977.50" y2="569.60" stroke="#aaa8ae" stroke-width="0.7" /><line x1="971.30" y1="569.60" x2="977.50" y2="563.40" stroke="#aaa8ae" stroke-width="0.7" /><line x1="641.00" y1="578.50" x2="641.00" y2="630.00" stroke="#e3e3e3" stroke-width="0.5" /><line x1="662.52" y1="578.50" x2="662.52" y2="630.00" stroke="#e3e3e3" stroke-width="0.5" /><line x1="684.05" y1="578.50" x2="684.05" y2="630.00" stroke="#e3e3e3" stroke-width="0.5" /><line x1="705.58" y1="578.50" x2="705.58" y2="630.00" stroke="#e3e3e3" stroke-width="0.5" /><line x1="727.10" y1="578.50" x2="727.10" y2="630.00" stroke="#e3e3e3" stroke-width="0.5" /><line x1="748.62" y1="578.50" x2="748.62" y2="630.00" stroke="#e3e3e3" stroke-width="0.5" /><line x1="770.15" y1="578.50" x2="770.15" y2="630.00" stroke="#e3e3e3" stroke-width="0.5" /><line x1="791.67" y1="578.50" x2="791.67" y2="630.00" stroke="#e3e3e3" stroke-width="0.5" /><line x1="813.20" y1="578.50" x2="813.20" y2="630.00" stroke="#e3e3e3" stroke-width="0.5" /><line x1="834.73" y1="578.50" x2="834.73" y2="630.00" stroke="#e3e3e3" stroke-width="0.5" /><line x1="856.25" y1="578.50" x2="856.25" y2="630.00" stroke="#e3e3e3" stroke-width="0.5" /><line x1="877.77" y1="578.50" x2="877.77" y2="630.00" stroke="#e3e3e3" stroke-width="0.5" /><line x1="899.30" y1="578.50" x2="899.30" y2="630.00" stroke="#e3e3e3" stroke-width="0.5" /><line x1="641.00" y1="610.00" x2="899.30" y2="610.00" stroke="#e3e3e3" stroke-width="0.5" /><line x1="641.00" y1="590.00" x2="899.30" y2="590.00" stroke="#e3e3e3" stroke-width="0.5" /><line x1="641.00" y1="578.50" x2="899.30" y2="578.50" stroke="#e3e3e3" stroke-width="0.5" /><polygon points="641.0,625.0 684.0,625.0 727.1,625.2 770.1,625.2 813.2,624.4 856.2,625.2 899.3,625.2 899.3,630.0 856.2,630.0 813.2,630.0 770.1,630.0 727.1,630.0 684.0,630.0 641.0,630.0" fill="#83bcb6"/><polygon points="641.0,621.6 684.0,621.0 727.1,620.0 770.1,620.6 813.2,622.8 856.2,621.0 899.3,621.6 899.3,625.2 856.2,625.2 813.2,624.4 770.1,625.2 727.1,625.2 684.0,625.0 641.0,625.0" fill="#439894"/><polygon points="641.0,619.6 684.0,618.6 727.1,617.2 770.1,618.0 813.2,619.6 856.2,618.0 899.3,618.0 899.3,621.6 856.2,621.0 813.2,622.8 770.1,620.6 727.1,620.0 684.0,621.0 641.0,621.6" fill="#f2cf5b"/><polygon points="641.0,615.8 684.0,617.0 727.1,613.8 770.1,615.2 813.2,616.6 856.2,615.8 899.3,614.4 899.3,618.0 856.2,618.0 813.2,619.6 770.1,618.0 727.1,617.2 684.0,618.6 641.0,619.6" fill="#b79a20"/><polygon points="641.0,611.0 684.0,609.2 727.1,606.4 770.1,606.0 813.2,608.8 856.2,608.0 899.3,606.0 899.3,614.4 856.2,615.8 813.2,616.6 770.1,615.2 727.1,613.8 684.0,617.0 641.0,615.8" fill="#88d27a"/><polygon points="641.0,593.2 684.0,594.8 727.1,592.4 770.1,589.4 813.2,592.0 856.2,590.4 899.3,588.4 899.3,606.0 856.2,608.0 813.2,608.8 770.1,606.0 727.1,606.4 684.0,609.2 641.0,611.0" fill="#54a24b"/><polygon points="641.0,590.8 684.0,592.4 727.1,587.6 770.1,587.6 813.2,590.0 856.2,587.6 899.3,586.0 899.3,588.4 856.2,590.4 813.2,592.0 770.1,589.4 727.1,592.4 684.0,594.8 641.0,593.2" fill="#ffbf79"/><polygon points="641.0,588.4 684.0,589.0 727.1,585.6 770.1,585.6 813.2,586.8 856.2,585.6 899.3,584.2 899.3,586.0 856.2,587.6 813.2,590.0 770.1,587.6 727.1,587.6 684.0,592.4 641.0,590.8" fill="#f58518"/><polygon points="641.0,586.0 684.0,586.0 727.1,583.2 770.1,583.8 813.2,583.2 856.2,583.8 899.3,582.6 899.3,584.2 856.2,585.6 813.2,586.8 770.1,585.6 727.1,585.6 684.0,589.0 641.0,588.4" fill="#9ecae9"/><polygon points="641.0,583.2 684.0,583.2 727.1,581.2 770.1,581.2 813.2,579.8 856.2,580.4 899.3,579.8 899.3,582.6 856.2,583.8 813.2,583.2 770.1,583.8 727.1,583.2 684.0,586.0 641.0,586.0" fill="#4c78a8"/><line x1="641.00" y1="578.50" x2="641.00" y2="630.00" stroke="#8a8a8a" stroke-width="0.5" /><line x1="641.00" y1="630.00" x2="899.30" y2="630.00" stroke="#8a8a8a" stroke-width="0.5" /><line x1="639.40" y1="630.00" x2="641.00" y2="630.00" stroke="#8a8a8a" stroke-width="0.5" /><text x="638.20" y="631.60" font-size="4.6" fill="#3a3a3a" text-anchor="end">0</text><line x1="639.40" y1="610.00" x2="641.00" y2="610.00" stroke="#8a8a8a" stroke-width="0.5" /><text x="638.20" y="611.60" font-size="4.6" fill="#3a3a3a" text-anchor="end">100</text><line x1="639.40" y1="590.00" x2="641.00" y2="590.00" stroke="#8a8a8a" stroke-width="0.5" /><text x="638.20" y="591.60" font-size="4.6" fill="#3a3a3a" text-anchor="end">200</text><text transform="translate(626.8 604) rotate(-90)" font-size="4.5" fill="#3a3a3a" text-anchor="middle">Time (hours)</text><line x1="641.00" y1="630.00" x2="641.00" y2="631.60" stroke="#8a8a8a" stroke-width="0.5" /><line x1="662.52" y1="630.00" x2="662.52" y2="631.60" stroke="#8a8a8a" stroke-width="0.5" /><line x1="684.05" y1="630.00" x2="684.05" y2="631.60" stroke="#8a8a8a" stroke-width="0.5" /><line x1="705.58" y1="630.00" x2="705.58" y2="631.60" stroke="#8a8a8a" stroke-width="0.5" /><line x1="727.10" y1="630.00" x2="727.10" y2="631.60" stroke="#8a8a8a" stroke-width="0.5" /><line x1="748.62" y1="630.00" x2="748.62" y2="631.60" stroke="#8a8a8a" stroke-width="0.5" /><line x1="770.15" y1="630.00" x2="770.15" y2="631.60" stroke="#8a8a8a" stroke-width="0.5" /><line x1="791.67" y1="630.00" x2="791.67" y2="631.60" stroke="#8a8a8a" stroke-width="0.5" /><line x1="813.20" y1="630.00" x2="813.20" y2="631.60" stroke="#8a8a8a" stroke-width="0.5" /><line x1="834.73" y1="630.00" x2="834.73" y2="631.60" stroke="#8a8a8a" stroke-width="0.5" /><line x1="856.25" y1="630.00" x2="856.25" y2="631.60" stroke="#8a8a8a" stroke-width="0.5" /><line x1="877.77" y1="630.00" x2="877.77" y2="631.60" stroke="#8a8a8a" stroke-width="0.5" /><line x1="899.30" y1="630.00" x2="899.30" y2="631.60" stroke="#8a8a8a" stroke-width="0.5" /><text x="641.00" y="637.70" font-size="4.6" fill="#3a3a3a">Apr 10</text><text x="684.05" y="637.70" font-size="4.6" fill="#3a3a3a" text-anchor="middle">Mon 11</text><text x="727.10" y="637.70" font-size="4.6" fill="#3a3a3a" text-anchor="middle">Tue 12</text><text x="770.15" y="637.70" font-size="4.6" fill="#3a3a3a" text-anchor="middle">Wed 13</text><text x="813.20" y="637.70" font-size="4.6" fill="#3a3a3a" text-anchor="middle">Thu 14</text><text x="856.25" y="637.70" font-size="4.6" fill="#3a3a3a" text-anchor="middle">Fri 15</text><text x="899.90" y="637.70" font-size="4.6" fill="#3a3a3a" text-anchor="end">Sat 16</text><text x="907.80" y="582.90" font-size="4.8999999999999995" fill="#2a2a2a" font-weight="bold">Category</text><path d="M910.20 586.60 L912.40 588.80 L910.20 591.00 L908.00 588.80Z" fill="#4c78a8" stroke="#4c78a8" stroke-width="0.5"/><text x="915.30" y="590.70" font-size="4.8" fill="#3a3a3a">Business &amp; Commercial</text><path d="M910.20 592.98 L912.40 595.18 L910.20 597.38 L908.00 595.18Z" fill="#9ecae9" stroke="#9ecae9" stroke-width="0.5"/><text x="915.30" y="597.08" font-size="4.8" fill="#3a3a3a">Computing &amp; Internet</text><path d="M910.20 599.36 L912.40 601.56 L910.20 603.76 L908.00 601.56Z" fill="#f58518" stroke="#f58518" stroke-width="0.5"/><text x="915.30" y="603.46" font-size="4.8" fill="#3a3a3a">Financial Products</text><path d="M910.20 605.74 L912.40 607.94 L910.20 610.14 L908.00 607.94Z" fill="#ffbf79" stroke="#ffbf79" stroke-width="0.5"/><text x="915.30" y="609.84" font-size="4.8" fill="#3a3a3a">LinkedIn</text><path d="M910.20 612.12 L912.40 614.32 L910.20 616.52 L908.00 614.32Z" fill="#54a24b" stroke="#54a24b" stroke-width="0.5"/><text x="915.30" y="616.22" font-size="4.8" fill="#3a3a3a">Native app</text><path d="M910.20 618.50 L912.40 620.70 L910.20 622.90 L908.00 620.70Z" fill="#88d27a" stroke="#88d27a" stroke-width="0.5"/><text x="915.30" y="622.60" font-size="4.8" fill="#3a3a3a">News</text><path d="M910.20 624.88 L912.40 627.08 L910.20 629.28 L908.00 627.08Z" fill="#b79a20" stroke="#b79a20" stroke-width="0.5"/><text x="915.30" y="628.98" font-size="4.8" fill="#3a3a3a">Social Networks in General</text><path d="M910.20 631.26 L912.40 633.46 L910.20 635.66 L908.00 633.46Z" fill="#f2cf5b" stroke="#f2cf5b" stroke-width="0.5"/><text x="915.30" y="635.36" font-size="4.8" fill="#3a3a3a">Twitter</text><path d="M910.20 637.64 L912.40 639.84 L910.20 642.04 L908.00 639.84Z" fill="#439894" stroke="#439894" stroke-width="0.5"/><text x="915.30" y="641.74" font-size="4.8" fill="#3a3a3a">Web based Mail</text><rect x="231.25" y="653.75" width="753.75" height="100.00" fill="#fafafa"/><path d="M949.02 660.10 L945.36 660.10 L945.36 666.66" fill="none" stroke="#858585" stroke-width="0.9"/><rect x="947.00" y="661.74" width="5.08" height="6.56" fill="none" rx="0.6" stroke="#858585" stroke-width="0.9"/><path d="M962.20 661.37 L962.24 660.20 L963.56 660.20 L963.60 661.37 L964.40 661.70 L965.25 660.90 L966.20 661.85 L965.40 662.70 L965.73 663.50 L966.90 663.54 L966.90 664.86 L965.73 664.90 L965.40 665.70 L966.20 666.55 L965.25 667.50 L964.40 666.70 L963.60 667.03 L963.56 668.20 L962.24 668.20 L962.20 667.03 L961.40 666.70 L960.55 667.50 L959.60 666.55 L960.40 665.70 L960.07 664.90 L958.90 664.86 L958.90 663.54 L960.07 663.50 L960.40 662.70 L959.60 661.85 L960.55 660.90 L961.40 661.70Z M961.60 664.20 a1.30 1.30 0 1 0 2.60 0 a1.30 1.30 0 1 0 -2.60 0Z" fill="#555" fill-rule="evenodd"/><line x1="971.30" y1="661.10" x2="977.50" y2="667.30" stroke="#aaa8ae" stroke-width="0.7" /><line x1="971.30" y1="667.30" x2="977.50" y2="661.10" stroke="#aaa8ae" stroke-width="0.7" /><rect x="240.50" y="675.00" width="724.90" height="16.75" fill="#f5f7f7"/><rect x="240.50" y="691.75" width="724.90" height="60.00" fill="#fff"/><line x1="240.50" y1="705.35" x2="879.60" y2="705.35" stroke="#e4e7ec" stroke-width="0.5" /><path d="M266.80 696.95 L268.70 698.95 L266.80 700.95" fill="none" stroke="#777" stroke-width="0.55"/><text x="277.75" y="701.25" font-size="6.5" fill="#2e2e2e" textLength="28.00" lengthAdjust="spacingAndGlyphs">Native app</text><text x="502.25" y="701.25" font-size="6.5" fill="#2e2e2e" textLength="24.25" lengthAdjust="spacingAndGlyphs">607:14:21</text><text x="554.75" y="701.25" font-size="6.5" fill="#2e2e2e" textLength="21.25" lengthAdjust="spacingAndGlyphs">13:16:34</text><text x="607.75" y="701.25" font-size="6.5" fill="#2e2e2e" textLength="18.25" lengthAdjust="spacingAndGlyphs">85.21%</text><text x="690.50" y="701.25" font-size="6.5" fill="#2e2e2e" textLength="18.75" lengthAdjust="spacingAndGlyphs">83.29%</text><text x="794.70" y="701.25" font-size="6.5" fill="#2e2e2e" textLength="16.00" lengthAdjust="spacingAndGlyphs">0.15%</text><rect x="240.50" y="705.40" width="639.10" height="13.60" fill="#fcfcfd"/><line x1="240.50" y1="719.00" x2="879.60" y2="719.00" stroke="#e4e7ec" stroke-width="0.5" /><path d="M266.80 710.60 L268.70 712.60 L266.80 714.60" fill="none" stroke="#777" stroke-width="0.55"/><text x="277.75" y="714.90" font-size="6.5" fill="#2e2e2e" textLength="14.25" lengthAdjust="spacingAndGlyphs">News</text><text x="502.25" y="714.90" font-size="6.5" fill="#2e2e2e" textLength="24.25" lengthAdjust="spacingAndGlyphs">248:12:50</text><text x="554.75" y="714.90" font-size="6.5" fill="#2e2e2e" textLength="21.25" lengthAdjust="spacingAndGlyphs">03:54:32</text><text x="607.75" y="714.90" font-size="6.5" fill="#2e2e2e" textLength="15.25" lengthAdjust="spacingAndGlyphs">2.62%</text><text x="690.50" y="714.90" font-size="6.5" fill="#2e2e2e" textLength="15.25" lengthAdjust="spacingAndGlyphs">2.62%</text><text x="794.70" y="714.90" font-size="6.5" fill="#2e2e2e" textLength="19.40" lengthAdjust="spacingAndGlyphs">74.41%</text><line x1="240.50" y1="732.60" x2="879.60" y2="732.60" stroke="#e4e7ec" stroke-width="0.5" /><path d="M266.80 724.20 L268.70 726.20 L266.80 728.20" fill="none" stroke="#777" stroke-width="0.55"/><text x="277.75" y="728.50" font-size="6.5" fill="#2e2e2e" textLength="22.25" lengthAdjust="spacingAndGlyphs">YouTube</text><text x="502.25" y="728.50" font-size="6.5" fill="#2e2e2e" textLength="24.25" lengthAdjust="spacingAndGlyphs">147:42:55</text><text x="554.75" y="728.50" font-size="6.5" fill="#2e2e2e" textLength="21.25" lengthAdjust="spacingAndGlyphs">03:09:24</text><text x="607.75" y="728.50" font-size="6.5" fill="#2e2e2e" textLength="3.20" lengthAdjust="spacingAndGlyphs">0</text><text x="690.50" y="728.50" font-size="6.5" fill="#2e2e2e" textLength="3.20" lengthAdjust="spacingAndGlyphs">0</text><text x="794.70" y="728.50" font-size="6.5" fill="#2e2e2e" textLength="14.60" lengthAdjust="spacingAndGlyphs">100%</text><rect x="240.50" y="732.60" width="639.10" height="13.60" fill="#fcfcfd"/><line x1="240.50" y1="746.20" x2="879.60" y2="746.20" stroke="#e4e7ec" stroke-width="0.5" /><path d="M266.80 737.80 L268.70 739.80 L266.80 741.80" fill="none" stroke="#777" stroke-width="0.55"/><text x="277.75" y="742.10" font-size="6.5" fill="#2e2e2e" textLength="41.75" lengthAdjust="spacingAndGlyphs">Web based Mail</text><text x="502.25" y="742.10" font-size="6.5" fill="#2e2e2e" textLength="24.25" lengthAdjust="spacingAndGlyphs">147:11:20</text><text x="554.75" y="742.10" font-size="6.5" fill="#2e2e2e" textLength="21.25" lengthAdjust="spacingAndGlyphs">02:29:14</text><text x="607.75" y="742.10" font-size="6.5" fill="#2e2e2e" textLength="18.25" lengthAdjust="spacingAndGlyphs">85.67%</text><text x="690.50" y="742.10" font-size="6.5" fill="#2e2e2e" textLength="18.75" lengthAdjust="spacingAndGlyphs">84.14%</text><text x="794.70" y="742.10" font-size="6.5" fill="#2e2e2e" textLength="3.20" lengthAdjust="spacingAndGlyphs">0</text><rect x="240.50" y="675.00" width="724.90" height="16.75" fill="none" stroke="#d5dbe0" stroke-width="0.6"/><line x1="240.50" y1="675.00" x2="240.50" y2="752.00" stroke="#d5dbe0" stroke-width="0.6" /><line x1="258.00" y1="675.00" x2="258.00" y2="691.75" stroke="#dfe3e6" stroke-width="0.6" /><line x1="383.75" y1="679.00" x2="383.75" y2="688.00" stroke="#dfe3e6" stroke-width="0.6" /><line x1="455.00" y1="679.00" x2="455.00" y2="688.00" stroke="#dfe3e6" stroke-width="0.6" /><line x1="496.00" y1="679.00" x2="496.00" y2="688.00" stroke="#dfe3e6" stroke-width="0.6" /><line x1="548.50" y1="679.00" x2="548.50" y2="688.00" stroke="#dfe3e6" stroke-width="0.6" /><line x1="601.50" y1="679.00" x2="601.50" y2="688.00" stroke="#dfe3e6" stroke-width="0.6" /><line x1="684.75" y1="679.00" x2="684.75" y2="688.00" stroke="#dfe3e6" stroke-width="0.6" /><line x1="788.20" y1="679.00" x2="788.20" y2="688.00" stroke="#dfe3e6" stroke-width="0.6" /><line x1="879.60" y1="679.00" x2="879.60" y2="688.00" stroke="#dfe3e6" stroke-width="0.6" /><text x="264.25" y="685.80" font-size="6.5" fill="#8b8b8b" textLength="16.50" lengthAdjust="spacingAndGlyphs">Group</text><text x="389.50" y="685.80" font-size="6.5" fill="#8b8b8b" textLength="31.75" lengthAdjust="spacingAndGlyphs">Timestamp*</text><line x1="427.50" y1="681.20" x2="427.50" y2="685.60" stroke="#8b8b8b" stroke-width="0.6" /><path d="M426.00 684.10 L427.50 685.60 L429.00 684.10" fill="none" stroke="#8b8b8b" stroke-width="0.6"/><text x="460.75" y="685.80" font-size="6.5" fill="#8b8b8b" textLength="11.25" lengthAdjust="spacingAndGlyphs">Title</text><text x="502.25" y="685.80" font-size="6.5" fill="#8b8b8b" textLength="13.00" lengthAdjust="spacingAndGlyphs">Time</text><line x1="521.00" y1="681.20" x2="521.00" y2="685.60" stroke="#8b8b8b" stroke-width="0.6" /><path d="M519.50 684.10 L521.00 685.60 L522.50 684.10" fill="none" stroke="#8b8b8b" stroke-width="0.6"/><text x="554.75" y="685.80" font-size="6.5" fill="#8b8b8b" textLength="23.25" lengthAdjust="spacingAndGlyphs">Idle time</text><text x="607.75" y="685.80" font-size="6.5" fill="#8b8b8b" textLength="53.25" lengthAdjust="spacingAndGlyphs">Productive Time (%)</text><text x="690.50" y="685.80" font-size="6.5" fill="#8b8b8b" textLength="75.20" lengthAdjust="spacingAndGlyphs">Productive No Idle Time (%)</text><text x="794.70" y="685.80" font-size="6.5" fill="#8b8b8b" textLength="61.60" lengthAdjust="spacingAndGlyphs">Unproductive Time (%)</text><rect x="957.80" y="691.75" width="7.60" height="60.00" fill="#f1f1f1"/><rect x="957.90" y="699.60" width="6.20" height="50.00" fill="#b9b9b9"/><polygon points="959.8,696.6 961.6,694.4 963.4,696.6" fill="#7a7a7a"/><rect x="965.40" y="675.00" width="10.10" height="77.00" fill="#fff" stroke="#d5dbe0" stroke-width="0.6"/><line x1="965.40" y1="683.20" x2="975.50" y2="683.20" stroke="#d5dbe0" stroke-width="0.6" /><rect x="967.90" y="689.60" width="1.10" height="3.60" fill="#9a6ab0"/><rect x="969.60" y="689.60" width="1.10" height="3.60" fill="#9a6ab0"/><rect x="971.30" y="689.60" width="1.10" height="3.60" fill="#9a6ab0"/><text transform="translate(968.3 696.6) rotate(90)" font-size="6.4" fill="#2a2a2a" textLength="25" lengthAdjust="spacingAndGlyphs">Columns</text><rect x="936.40" y="714.80" width="52.60" height="21.90" fill="#f68b1f" rx="10.95"/><circle cx="951.8" cy="725.3" r="3.7" fill="none" stroke="#4a2a0a" stroke-width="1.1"/><polygon points="948.9,727.4 948.0,730.2 951.2,728.9" fill="#4a2a0a"/><text x="961.60" y="728.70" font-size="8.4" fill="#4a2a0a" textLength="17.00" lengthAdjust="spacingAndGlyphs" font-weight="bold">Chat</text></g></svg></div>
</body></html>
